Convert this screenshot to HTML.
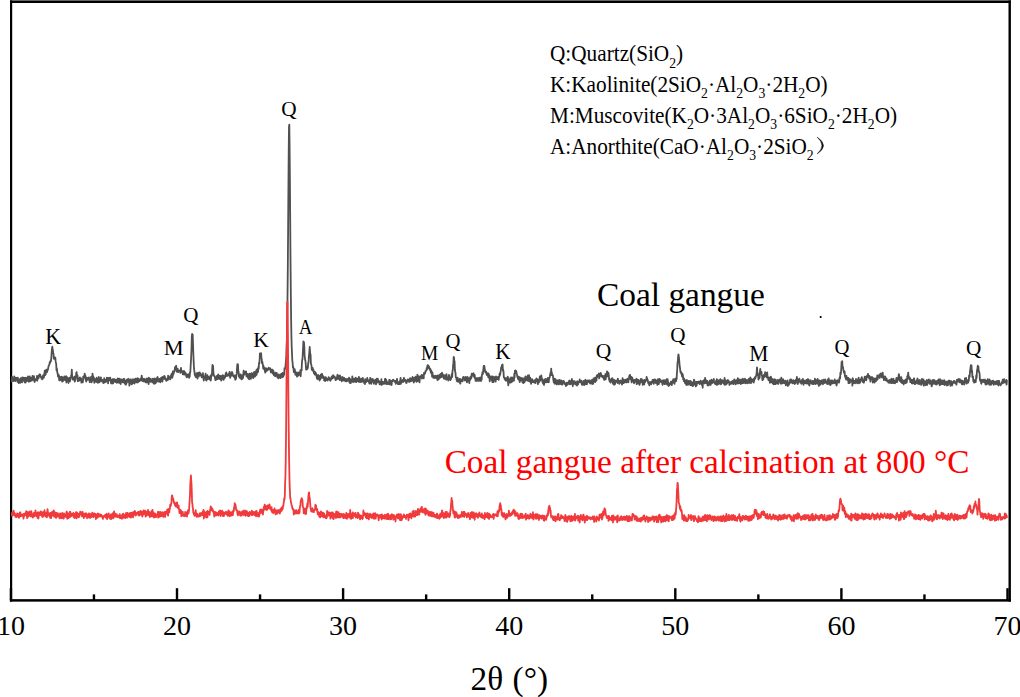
<!DOCTYPE html>
<html><head><meta charset="utf-8"><style>
html,body{margin:0;padding:0;background:#fff;}
svg{display:block;font-family:"Liberation Serif",serif;}
</style></head><body>
<svg width="1020" height="697" viewBox="0 0 1020 697">
<rect width="1020" height="697" fill="#fff"/>
<g fill="#000">
<rect x="10" y="0.4" width="1000.9" height="2.6"/>
<rect x="10" y="0.4" width="2.2" height="601.2"/>
<rect x="1008.5" y="0.4" width="2.4" height="601.2"/>
<rect x="9.9" y="599.15" width="1001" height="2.5"/>
<rect x="9.70" y="588.2" width="2.4" height="12.2"/><rect x="92.75" y="594.4" width="2.4" height="6.0"/><rect x="175.80" y="588.2" width="2.4" height="12.2"/><rect x="258.85" y="594.4" width="2.4" height="6.0"/><rect x="341.90" y="588.2" width="2.4" height="12.2"/><rect x="424.95" y="594.4" width="2.4" height="6.0"/><rect x="508.00" y="588.2" width="2.4" height="12.2"/><rect x="591.05" y="594.4" width="2.4" height="6.0"/><rect x="674.10" y="588.2" width="2.4" height="12.2"/><rect x="757.15" y="594.4" width="2.4" height="6.0"/><rect x="840.20" y="588.2" width="2.4" height="12.2"/><rect x="923.25" y="594.4" width="2.4" height="6.0"/><rect x="1006.30" y="588.2" width="2.4" height="12.2"/>
</g>
<path d="M11.5 379.9L11.8 381.3L12.1 376.8L12.4 380.3L12.7 378.9L13.0 379.2L13.3 381.0L13.6 379.1L13.9 380.4L14.2 376.3L14.5 380.0L14.8 380.9L15.1 379.3L15.4 381.2L15.7 377.6L16.0 379.4L16.3 377.9L16.6 379.4L16.9 378.7L17.2 378.7L17.5 381.8L17.8 377.6L18.1 379.5L18.4 381.9L18.7 383.1L19.0 381.5L19.3 380.8L19.6 379.3L19.9 381.2L20.2 382.9L20.5 379.6L20.8 378.2L21.1 380.2L21.4 381.9L21.7 380.9L22.0 382.4L22.3 377.4L22.6 379.3L22.9 380.3L23.2 377.8L23.5 377.7L23.8 380.9L24.1 379.0L24.4 377.9L24.7 382.4L25.0 378.8L25.3 379.1L25.6 382.7L25.9 377.6L26.2 380.9L26.5 381.2L26.8 380.6L27.1 378.0L27.4 380.9L27.7 379.1L28.0 376.4L28.3 380.6L28.6 381.0L28.9 381.8L29.2 378.6L29.5 378.7L29.8 376.4L30.1 379.6L30.4 381.1L30.7 380.8L31.0 380.1L31.3 377.9L31.6 380.0L31.9 380.5L32.2 379.6L32.5 375.8L32.8 378.8L33.1 379.9L33.4 377.8L33.7 379.1L34.0 376.2L34.3 381.0L34.6 382.0L34.9 381.1L35.2 379.5L35.5 379.4L35.8 378.9L36.1 379.8L36.4 378.5L36.7 380.0L37.0 375.9L37.3 380.8L37.6 376.9L37.9 376.6L38.2 377.2L38.5 378.3L38.8 375.3L39.1 376.6L39.4 374.4L39.7 376.0L40.0 376.2L40.3 374.6L40.6 376.9L40.9 377.2L41.2 377.4L41.5 378.6L41.8 377.6L42.1 379.4L42.4 376.6L42.7 378.9L43.0 375.5L43.3 376.2L43.6 376.2L43.9 377.7L44.2 374.1L44.5 372.7L44.8 370.6L45.1 372.5L45.4 375.0L45.7 374.2L46.0 370.4L46.3 369.6L46.6 371.0L46.9 372.3L47.2 371.4L47.5 369.3L47.8 370.1L48.1 369.0L48.4 366.8L48.7 365.7L49.0 365.5L49.3 364.8L49.6 363.0L49.9 362.0L50.2 362.6L50.5 361.0L50.8 361.5L51.1 360.1L51.4 356.4L51.7 351.9L52.0 348.5L52.3 346.7L52.6 348.7L52.9 350.2L53.2 353.4L53.5 353.7L53.8 358.7L54.1 358.4L54.4 358.5L54.7 357.4L55.0 359.3L55.3 357.7L55.6 360.9L55.9 362.7L56.2 363.7L56.5 370.3L56.8 368.4L57.1 370.1L57.4 373.1L57.7 373.3L58.0 376.7L58.3 375.9L58.6 376.5L58.9 375.1L59.2 380.3L59.5 376.6L59.8 380.3L60.1 378.7L60.4 379.6L60.7 379.1L61.0 377.0L61.3 377.1L61.6 380.6L61.9 376.6L62.2 381.6L62.5 380.2L62.8 378.8L63.1 381.0L63.4 377.6L63.7 377.7L64.0 378.9L64.3 376.5L64.6 378.5L64.9 380.1L65.2 379.8L65.5 380.3L65.8 377.9L66.1 376.2L66.4 382.5L66.7 377.0L67.0 378.6L67.3 381.0L67.6 377.7L67.9 380.7L68.2 378.2L68.5 383.0L68.8 380.8L69.1 378.8L69.4 380.9L69.7 377.7L70.0 381.4L70.3 379.3L70.6 378.1L70.9 377.0L71.2 375.2L71.5 374.8L71.8 369.6L72.1 375.6L72.4 377.2L72.7 379.7L73.0 378.9L73.3 378.9L73.6 378.0L73.9 379.8L74.2 378.0L74.5 376.6L74.8 381.6L75.1 379.0L75.4 379.8L75.7 377.3L76.0 376.4L76.3 372.6L76.6 372.1L76.9 375.8L77.2 377.5L77.5 375.4L77.8 381.2L78.1 378.5L78.4 380.4L78.7 379.0L79.0 380.9L79.3 378.9L79.6 377.8L79.9 377.5L80.2 378.8L80.5 379.2L80.8 380.5L81.1 378.4L81.4 382.7L81.7 382.1L82.0 380.8L82.3 380.8L82.6 382.4L82.9 382.1L83.2 376.6L83.5 379.5L83.8 377.3L84.1 375.8L84.4 377.4L84.7 373.6L85.0 375.3L85.3 375.5L85.6 376.4L85.9 380.0L86.2 381.7L86.5 379.6L86.8 378.0L87.1 379.8L87.4 379.8L87.7 379.7L88.0 379.4L88.3 377.7L88.6 378.6L88.9 377.4L89.2 379.7L89.5 380.7L89.8 382.2L90.1 379.8L90.4 379.3L90.7 381.4L91.0 377.0L91.3 378.0L91.6 382.4L91.9 380.6L92.2 376.7L92.5 373.6L92.8 376.3L93.1 376.1L93.4 380.3L93.7 377.2L94.0 378.0L94.3 382.8L94.6 379.7L94.9 379.6L95.2 379.5L95.5 380.8L95.8 378.9L96.1 381.8L96.4 381.4L96.7 377.7L97.0 381.6L97.3 382.2L97.6 382.6L97.9 382.8L98.2 381.6L98.5 379.0L98.8 376.8L99.1 378.8L99.4 382.4L99.7 381.9L100.0 380.8L100.3 379.5L100.6 380.8L100.9 377.3L101.2 379.5L101.5 379.7L101.8 379.9L102.1 381.5L102.4 379.8L102.7 380.8L103.0 380.4L103.3 383.1L103.6 380.8L103.9 382.8L104.2 378.2L104.5 379.6L104.8 381.7L105.1 382.2L105.4 380.0L105.7 380.0L106.0 381.9L106.3 381.2L106.6 380.3L106.9 377.6L107.2 378.6L107.5 379.6L107.8 379.8L108.1 383.4L108.4 378.0L108.7 380.4L109.0 378.6L109.3 380.3L109.6 378.3L109.9 377.6L110.2 377.6L110.5 379.6L110.8 381.1L111.1 383.4L111.4 380.0L111.7 380.3L112.0 383.5L112.3 382.1L112.6 379.2L112.9 382.1L113.2 383.3L113.5 379.5L113.8 381.8L114.1 379.0L114.4 379.4L114.7 380.8L115.0 381.4L115.3 381.9L115.6 380.3L115.9 379.7L116.2 382.3L116.5 381.7L116.8 382.9L117.1 380.8L117.4 380.2L117.7 378.3L118.0 381.0L118.3 378.9L118.6 382.6L118.9 380.8L119.2 378.6L119.5 382.3L119.8 379.0L120.1 383.1L120.4 382.3L120.7 384.0L121.0 381.6L121.3 379.4L121.6 380.7L121.9 381.5L122.2 381.0L122.5 380.3L122.8 382.4L123.1 380.2L123.4 379.0L123.7 382.1L124.0 380.8L124.3 379.0L124.6 383.5L124.9 380.6L125.2 382.2L125.5 380.9L125.8 384.8L126.1 382.8L126.4 383.8L126.7 379.6L127.0 381.8L127.3 380.5L127.6 381.9L127.9 379.5L128.2 378.8L128.5 380.7L128.8 381.6L129.1 381.6L129.4 385.7L129.7 380.4L130.0 379.3L130.3 382.7L130.6 380.8L130.9 379.5L131.2 381.4L131.5 384.3L131.8 384.3L132.1 382.2L132.4 380.5L132.7 383.4L133.0 379.1L133.3 380.1L133.6 381.6L133.9 380.1L134.2 382.0L134.5 383.6L134.8 379.1L135.1 381.8L135.4 379.6L135.7 378.6L136.0 378.5L136.3 382.4L136.6 381.7L136.9 382.3L137.2 380.1L137.5 382.5L137.8 378.2L138.1 379.6L138.4 382.0L138.7 381.3L139.0 379.4L139.3 379.2L139.6 381.0L139.9 380.5L140.2 379.2L140.5 379.2L140.8 380.3L141.1 378.1L141.4 378.8L141.7 375.7L142.0 377.9L142.3 381.0L142.6 378.6L142.9 378.6L143.2 380.3L143.5 378.9L143.8 381.3L144.1 381.6L144.4 379.0L144.7 381.1L145.0 380.6L145.3 380.0L145.6 381.8L145.9 382.4L146.2 380.4L146.5 378.7L146.8 382.5L147.1 378.3L147.4 382.0L147.7 379.6L148.0 379.6L148.3 381.5L148.6 384.2L148.9 377.7L149.2 378.6L149.5 381.5L149.8 379.8L150.1 380.0L150.4 381.8L150.7 378.6L151.0 380.6L151.3 381.5L151.6 380.5L151.9 380.3L152.2 381.5L152.5 382.4L152.8 378.7L153.1 380.4L153.4 382.9L153.7 382.9L154.0 383.8L154.3 380.8L154.6 378.5L154.9 379.3L155.2 380.3L155.5 383.4L155.8 380.7L156.1 378.9L156.4 378.5L156.7 378.5L157.0 381.8L157.3 377.5L157.6 377.0L157.9 379.7L158.2 380.1L158.5 379.8L158.8 381.6L159.1 378.8L159.4 380.5L159.7 381.2L160.0 381.8L160.3 382.3L160.6 378.2L160.9 381.1L161.2 380.8L161.5 379.6L161.8 377.3L162.1 378.7L162.4 381.7L162.7 376.8L163.0 378.1L163.3 377.1L163.6 378.9L163.9 378.7L164.2 376.0L164.5 378.1L164.8 376.5L165.1 379.2L165.4 377.9L165.7 379.8L166.0 379.0L166.3 380.9L166.6 379.8L166.9 379.1L167.2 379.7L167.5 378.6L167.8 380.2L168.1 375.7L168.4 377.6L168.7 378.2L169.0 378.8L169.3 377.4L169.6 377.3L169.9 376.9L170.2 379.3L170.5 375.9L170.8 376.1L171.1 376.0L171.4 374.5L171.7 373.8L172.0 377.9L172.3 377.9L172.6 376.1L172.9 371.4L173.2 374.9L173.5 373.7L173.8 372.7L174.1 371.6L174.4 370.7L174.7 370.1L175.0 367.2L175.3 369.5L175.6 367.2L175.9 366.1L176.2 365.8L176.5 371.4L176.8 371.7L177.1 368.3L177.4 369.5L177.7 368.9L178.0 372.2L178.3 371.8L178.6 370.9L178.9 371.2L179.2 370.3L179.5 370.9L179.8 371.5L180.1 371.3L180.4 372.9L180.7 372.1L181.0 367.8L181.3 371.6L181.6 371.0L181.9 371.0L182.2 371.0L182.5 371.2L182.8 374.4L183.1 371.9L183.4 373.3L183.7 374.4L184.0 370.8L184.3 373.7L184.6 374.7L184.9 374.0L185.2 372.4L185.5 374.4L185.8 373.3L186.1 374.8L186.4 376.8L186.7 374.6L187.0 377.4L187.3 375.5L187.6 376.3L187.9 375.5L188.2 374.2L188.5 376.3L188.8 374.8L189.1 377.8L189.4 375.7L189.7 376.8L190.0 372.4L190.3 372.3L190.6 367.2L190.9 361.6L191.2 356.0L191.5 348.8L191.8 336.4L192.1 334.0L192.4 334.8L192.7 334.6L193.0 343.6L193.3 352.8L193.6 360.1L193.9 366.4L194.2 369.9L194.5 372.0L194.8 375.1L195.1 375.0L195.4 375.8L195.7 377.1L196.0 374.8L196.3 375.1L196.6 373.2L196.9 373.9L197.2 377.0L197.5 378.6L197.8 374.5L198.1 372.6L198.4 375.7L198.7 376.6L199.0 373.1L199.3 373.7L199.6 372.3L199.9 375.0L200.2 375.4L200.5 373.3L200.8 374.8L201.1 375.7L201.4 375.7L201.7 377.2L202.0 377.3L202.3 374.9L202.6 375.5L202.9 373.2L203.2 376.5L203.5 378.6L203.8 380.6L204.1 376.8L204.4 377.6L204.7 376.4L205.0 377.4L205.3 375.3L205.6 373.6L205.9 379.9L206.2 379.3L206.5 380.6L206.8 376.7L207.1 376.8L207.4 375.2L207.7 377.0L208.0 379.1L208.3 376.6L208.6 378.3L208.9 378.0L209.2 377.3L209.5 378.3L209.8 379.5L210.1 378.7L210.4 375.9L210.7 380.5L211.0 378.9L211.3 375.6L211.6 374.1L211.9 375.6L212.2 368.6L212.5 364.8L212.8 367.5L213.1 365.8L213.4 373.0L213.7 374.8L214.0 375.9L214.3 375.9L214.6 376.2L214.9 377.2L215.2 379.2L215.5 380.2L215.8 380.1L216.1 378.1L216.4 379.1L216.7 376.0L217.0 375.9L217.3 377.5L217.6 379.1L217.9 378.3L218.2 374.3L218.5 376.8L218.8 378.5L219.1 377.5L219.4 378.9L219.7 375.7L220.0 379.2L220.3 377.4L220.6 376.1L220.9 377.5L221.2 380.7L221.5 379.1L221.8 376.0L222.1 377.4L222.4 378.9L222.7 375.1L223.0 376.1L223.3 375.6L223.6 379.9L223.9 375.9L224.2 377.8L224.5 378.3L224.8 376.1L225.1 377.3L225.4 375.8L225.7 373.4L226.0 374.5L226.3 372.3L226.6 374.1L226.9 376.2L227.2 375.3L227.5 374.8L227.8 374.6L228.1 375.4L228.4 374.1L228.7 375.4L229.0 375.7L229.3 373.3L229.6 371.8L229.9 375.7L230.2 377.9L230.5 375.4L230.8 375.5L231.1 375.8L231.4 373.0L231.7 374.1L232.0 372.0L232.3 374.7L232.6 373.1L232.9 375.6L233.2 376.1L233.5 376.6L233.8 375.9L234.1 377.1L234.4 377.4L234.7 375.5L235.0 377.9L235.3 379.8L235.6 375.7L235.9 379.1L236.2 376.8L236.5 374.9L236.8 373.4L237.1 367.0L237.4 364.1L237.7 365.8L238.0 364.5L238.3 372.0L238.6 371.7L238.9 376.3L239.2 376.2L239.5 377.6L239.8 374.7L240.1 377.0L240.4 378.4L240.7 374.5L241.0 375.6L241.3 378.5L241.6 379.4L241.9 376.2L242.2 379.0L242.5 375.1L242.8 377.2L243.1 378.0L243.4 373.1L243.7 370.7L244.0 373.5L244.3 374.7L244.6 373.5L244.9 371.8L245.2 373.8L245.5 372.9L245.8 371.8L246.1 371.5L246.4 376.1L246.7 376.2L247.0 375.5L247.3 373.9L247.6 377.7L247.9 374.5L248.2 374.4L248.5 375.2L248.8 378.8L249.1 379.2L249.4 373.6L249.7 378.6L250.0 377.4L250.3 374.0L250.6 377.6L250.9 378.9L251.2 377.2L251.5 373.2L251.8 375.5L252.1 376.8L252.4 377.2L252.7 375.7L253.0 373.4L253.3 378.0L253.6 376.9L253.9 374.5L254.2 371.9L254.5 376.6L254.8 375.8L255.1 376.5L255.4 371.9L255.7 375.6L256.0 373.3L256.3 370.1L256.6 374.8L256.9 371.7L257.2 369.1L257.5 370.8L257.8 372.3L258.1 371.3L258.4 366.9L258.7 368.8L259.0 362.8L259.3 363.6L259.6 360.6L259.9 353.5L260.2 354.2L260.5 353.9L260.8 353.4L261.1 353.1L261.4 357.4L261.7 358.9L262.0 363.2L262.3 361.7L262.6 363.5L262.9 365.1L263.2 368.5L263.5 365.8L263.8 368.1L264.1 369.4L264.4 368.0L264.7 369.7L265.0 371.8L265.3 372.7L265.6 370.8L265.9 368.1L266.2 371.2L266.5 370.9L266.8 369.0L267.1 369.4L267.4 370.5L267.7 368.9L268.0 369.1L268.3 369.6L268.6 367.6L268.9 369.4L269.2 368.3L269.5 368.9L269.8 368.6L270.1 369.3L270.4 368.4L270.7 371.0L271.0 372.6L271.3 372.1L271.6 370.0L271.9 370.4L272.2 370.8L272.5 369.6L272.8 373.7L273.1 372.7L273.4 370.8L273.7 373.4L274.0 375.3L274.3 372.9L274.6 374.7L274.9 374.3L275.2 376.4L275.5 372.7L275.8 374.7L276.1 374.2L276.4 375.5L276.7 372.9L277.0 374.1L277.3 376.9L277.6 377.5L277.9 377.8L278.2 377.2L278.5 378.4L278.8 374.5L279.1 377.1L279.4 375.7L279.7 377.3L280.0 376.4L280.3 374.8L280.6 378.2L280.9 375.2L281.2 374.0L281.5 373.7L281.8 376.8L282.1 373.5L282.4 377.3L282.7 372.9L283.0 373.7L283.3 376.7L283.6 373.6L283.9 375.0L284.2 374.5L284.5 368.1L284.8 369.3L285.1 368.1L285.4 367.3L285.7 363.7L286.0 360.0L286.3 356.2L286.6 346.8L286.9 339.8L287.2 318.9L287.5 298.2L287.8 269.1L288.1 231.8L288.4 190.1L288.7 153.0L289.0 126.7L289.3 124.6L289.6 147.7L289.9 179.8L290.2 219.3L290.5 259.0L290.8 291.5L291.1 317.6L291.4 335.3L291.7 347.3L292.0 353.2L292.3 360.6L292.6 362.2L292.9 367.4L293.2 366.6L293.5 368.5L293.8 372.2L294.1 369.9L294.4 371.4L294.7 369.2L295.0 371.2L295.3 374.8L295.6 373.1L295.9 372.2L296.2 373.0L296.5 374.0L296.8 375.3L297.1 376.7L297.4 372.6L297.7 373.7L298.0 375.8L298.3 374.9L298.6 374.8L298.9 372.5L299.2 374.0L299.5 374.7L299.8 372.7L300.1 375.2L300.4 370.1L300.7 376.3L301.0 370.4L301.3 370.4L301.6 370.6L301.9 363.2L302.2 359.8L302.5 359.3L302.8 353.2L303.1 347.6L303.4 341.4L303.7 342.5L304.0 342.1L304.3 346.8L304.6 355.5L304.9 358.0L305.2 360.4L305.5 361.0L305.8 365.0L306.1 369.7L306.4 368.0L306.7 366.8L307.0 369.4L307.3 368.2L307.6 368.4L307.9 367.4L308.2 362.9L308.5 363.0L308.8 358.1L309.1 354.3L309.4 351.3L309.7 347.0L310.0 351.3L310.3 354.2L310.6 354.9L310.9 363.6L311.2 364.5L311.5 365.5L311.8 369.8L312.1 369.5L312.4 370.2L312.7 367.8L313.0 369.9L313.3 371.2L313.6 370.1L313.9 373.3L314.2 372.7L314.5 373.6L314.8 374.6L315.1 372.0L315.4 373.2L315.7 373.3L316.0 373.1L316.3 375.7L316.6 376.3L316.9 378.6L317.2 376.4L317.5 375.5L317.8 379.3L318.1 374.9L318.4 377.0L318.7 378.3L319.0 376.0L319.3 377.4L319.6 380.7L319.9 376.0L320.2 376.9L320.5 379.2L320.8 374.6L321.1 378.0L321.4 375.6L321.7 373.9L322.0 373.9L322.3 374.9L322.6 377.8L322.9 376.0L323.2 376.5L323.5 378.2L323.8 376.8L324.1 380.5L324.4 378.9L324.7 380.5L325.0 379.1L325.3 381.0L325.6 377.2L325.9 377.5L326.2 378.4L326.5 380.2L326.8 380.0L327.1 379.4L327.4 379.1L327.7 380.6L328.0 379.4L328.3 378.6L328.6 377.1L328.9 378.5L329.2 379.1L329.5 378.0L329.8 379.9L330.1 380.3L330.4 380.7L330.7 379.5L331.0 379.4L331.3 378.3L331.6 376.8L331.9 376.5L332.2 377.3L332.5 378.5L332.8 378.3L333.1 375.2L333.4 376.4L333.7 375.9L334.0 376.7L334.3 377.1L334.6 376.5L334.9 377.7L335.2 377.7L335.5 380.1L335.8 380.1L336.1 379.3L336.4 378.1L336.7 377.4L337.0 379.1L337.3 375.3L337.6 374.8L337.9 376.4L338.2 378.9L338.5 375.9L338.8 377.7L339.1 378.4L339.4 377.8L339.7 380.2L340.0 375.3L340.3 379.0L340.6 378.3L340.9 379.8L341.2 380.1L341.5 379.3L341.8 381.3L342.1 376.9L342.4 379.1L342.7 377.1L343.0 377.6L343.3 380.5L343.6 380.0L343.9 379.8L344.2 378.0L344.5 379.8L344.8 379.4L345.1 381.0L345.4 380.2L345.7 379.0L346.0 381.4L346.3 379.6L346.6 381.3L346.9 379.0L347.2 381.0L347.5 380.0L347.8 379.4L348.1 379.0L348.4 380.0L348.7 378.6L349.0 377.7L349.3 381.9L349.6 382.8L349.9 378.6L350.2 379.8L350.5 379.6L350.8 383.2L351.1 381.2L351.4 380.1L351.7 380.5L352.0 381.1L352.3 376.3L352.6 381.1L352.9 380.8L353.2 382.2L353.5 381.6L353.8 378.7L354.1 381.0L354.4 380.9L354.7 381.6L355.0 379.7L355.3 380.7L355.6 377.6L355.9 380.8L356.2 382.2L356.5 378.9L356.8 379.1L357.1 378.5L357.4 381.1L357.7 379.6L358.0 380.6L358.3 379.6L358.6 381.8L358.9 376.9L359.2 379.8L359.5 380.0L359.8 378.3L360.1 382.2L360.4 381.2L360.7 381.9L361.0 379.6L361.3 379.5L361.6 378.8L361.9 381.9L362.2 381.3L362.5 381.6L362.8 377.9L363.1 379.8L363.4 380.2L363.7 380.9L364.0 381.6L364.3 383.4L364.6 382.9L364.9 384.1L365.2 379.2L365.5 381.8L365.8 382.5L366.1 381.4L366.4 379.7L366.7 381.5L367.0 379.3L367.3 378.0L367.6 381.1L367.9 381.1L368.2 381.2L368.5 380.4L368.8 382.1L369.1 381.8L369.4 383.5L369.7 382.9L370.0 379.1L370.3 377.9L370.6 381.7L370.9 381.9L371.2 383.9L371.5 380.8L371.8 379.1L372.1 379.1L372.4 381.7L372.7 379.0L373.0 381.4L373.3 380.2L373.6 383.0L373.9 383.8L374.2 380.5L374.5 381.9L374.8 382.2L375.1 381.0L375.4 379.7L375.7 380.1L376.0 384.3L376.3 382.2L376.6 379.3L376.9 378.7L377.2 382.6L377.5 380.8L377.8 378.6L378.1 381.1L378.4 381.0L378.7 380.7L379.0 382.7L379.3 381.4L379.6 384.3L379.9 382.9L380.2 384.4L380.5 381.6L380.8 382.9L381.1 382.5L381.4 379.1L381.7 384.9L382.0 381.8L382.3 382.9L382.6 382.0L382.9 383.8L383.2 381.9L383.5 383.3L383.8 383.6L384.1 383.9L384.4 382.7L384.7 383.6L385.0 378.9L385.3 380.9L385.6 379.0L385.9 379.8L386.2 379.9L386.5 384.2L386.8 381.2L387.1 382.7L387.4 383.6L387.7 383.0L388.0 384.2L388.3 382.8L388.6 383.8L388.9 383.9L389.2 380.0L389.5 382.5L389.8 379.8L390.1 384.5L390.4 381.4L390.7 383.8L391.0 381.2L391.3 380.9L391.6 385.0L391.9 382.0L392.2 381.1L392.5 380.7L392.8 379.9L393.1 379.7L393.4 379.8L393.7 380.2L394.0 381.0L394.3 380.7L394.6 381.9L394.9 381.3L395.2 381.7L395.5 380.8L395.8 383.8L396.1 382.6L396.4 380.6L396.7 380.7L397.0 379.0L397.3 381.0L397.6 381.8L397.9 384.1L398.2 382.2L398.5 382.9L398.8 384.2L399.1 382.2L399.4 384.2L399.7 382.9L400.0 380.8L400.3 380.1L400.6 377.8L400.9 383.9L401.2 381.6L401.5 381.0L401.8 381.5L402.1 381.8L402.4 380.1L402.7 381.7L403.0 382.1L403.3 380.0L403.6 380.3L403.9 377.8L404.2 378.2L404.5 380.8L404.8 380.3L405.1 379.8L405.4 381.7L405.7 380.6L406.0 381.5L406.3 383.0L406.6 382.8L406.9 382.2L407.2 380.1L407.5 379.8L407.8 379.3L408.1 379.4L408.4 379.8L408.7 380.4L409.0 381.8L409.3 381.1L409.6 381.9L409.9 379.0L410.2 378.1L410.5 378.9L410.8 379.7L411.1 381.1L411.4 379.2L411.7 379.8L412.0 378.1L412.3 380.7L412.6 377.0L412.9 379.9L413.2 380.9L413.5 380.7L413.8 382.5L414.1 377.8L414.4 381.6L414.7 380.2L415.0 378.5L415.3 378.0L415.6 376.6L415.9 377.3L416.2 380.2L416.5 381.9L416.8 380.0L417.1 378.8L417.4 374.7L417.7 381.2L418.0 376.2L418.3 377.9L418.6 376.6L418.9 376.2L419.2 381.2L419.5 382.3L419.8 379.0L420.1 376.9L420.4 377.6L420.7 376.5L421.0 375.9L421.3 376.8L421.6 375.0L421.9 378.6L422.2 375.5L422.5 375.2L422.8 376.0L423.1 376.9L423.4 377.0L423.7 378.4L424.0 372.9L424.3 373.9L424.6 374.0L424.9 373.5L425.2 373.2L425.5 370.9L425.8 370.9L426.1 370.5L426.4 370.6L426.7 368.0L427.0 369.3L427.3 366.5L427.6 365.1L427.9 366.6L428.2 365.4L428.5 366.0L428.8 368.2L429.1 366.6L429.4 368.7L429.7 369.6L430.0 369.6L430.3 368.8L430.6 370.9L430.9 372.9L431.2 370.3L431.5 372.2L431.8 372.5L432.1 376.6L432.4 372.3L432.7 375.1L433.0 375.4L433.3 377.8L433.6 377.8L433.9 376.1L434.2 376.8L434.5 377.2L434.8 378.0L435.1 375.6L435.4 377.7L435.7 377.5L436.0 377.8L436.3 375.8L436.6 378.3L436.9 376.8L437.2 377.3L437.5 380.2L437.8 375.4L438.1 378.9L438.4 375.9L438.7 379.3L439.0 377.8L439.3 376.3L439.6 374.9L439.9 377.2L440.2 377.8L440.5 374.0L440.8 377.0L441.1 374.4L441.4 374.7L441.7 377.2L442.0 372.6L442.3 376.1L442.6 374.0L442.9 376.5L443.2 376.6L443.5 375.6L443.8 378.7L444.1 375.1L444.4 378.5L444.7 378.1L445.0 378.8L445.3 375.3L445.6 377.5L445.9 375.9L446.2 379.8L446.5 374.2L446.8 377.3L447.1 379.1L447.4 377.6L447.7 379.2L448.0 379.0L448.3 380.5L448.6 377.3L448.9 374.9L449.2 376.3L449.5 378.7L449.8 377.8L450.1 379.3L450.4 380.1L450.7 377.3L451.0 379.0L451.3 376.9L451.6 375.1L451.9 373.7L452.2 377.2L452.5 370.7L452.8 370.3L453.1 365.2L453.4 363.5L453.7 356.8L454.0 357.4L454.3 361.2L454.6 361.3L454.9 370.0L455.2 371.9L455.5 372.6L455.8 377.3L456.1 377.3L456.4 378.4L456.7 380.5L457.0 381.3L457.3 378.7L457.6 377.7L457.9 380.7L458.2 381.9L458.5 379.5L458.8 379.4L459.1 381.3L459.4 381.0L459.7 379.0L460.0 383.0L460.3 383.6L460.6 381.2L460.9 379.2L461.2 380.1L461.5 380.1L461.8 381.0L462.1 380.3L462.4 381.3L462.7 381.3L463.0 377.6L463.3 376.9L463.6 377.9L463.9 378.5L464.2 377.5L464.5 377.4L464.8 380.5L465.1 379.9L465.4 379.1L465.7 377.0L466.0 380.4L466.3 378.5L466.6 377.7L466.9 382.3L467.2 381.6L467.5 376.8L467.8 379.9L468.1 377.9L468.4 379.9L468.7 379.2L469.0 380.9L469.3 383.2L469.6 378.1L469.9 378.0L470.2 380.0L470.5 376.6L470.8 378.7L471.1 377.5L471.4 378.1L471.7 373.7L472.0 374.3L472.3 375.4L472.6 373.9L472.9 375.6L473.2 373.5L473.5 373.1L473.8 376.5L474.1 374.6L474.4 377.5L474.7 375.0L475.0 378.6L475.3 378.4L475.6 380.8L475.9 379.3L476.2 378.1L476.5 378.1L476.8 380.9L477.1 379.5L477.4 378.4L477.7 379.8L478.0 377.9L478.3 380.9L478.6 378.7L478.9 379.2L479.2 380.8L479.5 380.6L479.8 377.6L480.1 379.9L480.4 380.5L480.7 380.5L481.0 381.0L481.3 376.9L481.6 380.0L481.9 374.9L482.2 374.0L482.5 372.1L482.8 374.2L483.1 371.9L483.4 369.7L483.7 365.9L484.0 369.2L484.3 365.8L484.6 367.9L484.9 370.1L485.2 372.1L485.5 372.0L485.8 372.7L486.1 371.6L486.4 372.3L486.7 375.0L487.0 373.3L487.3 373.3L487.6 373.4L487.9 373.6L488.2 377.3L488.5 373.5L488.8 374.2L489.1 377.9L489.4 375.4L489.7 381.3L490.0 378.5L490.3 377.3L490.6 377.1L490.9 379.0L491.2 376.3L491.5 377.3L491.8 380.5L492.1 380.5L492.4 382.1L492.7 376.5L493.0 382.1L493.3 380.0L493.6 382.1L493.9 377.3L494.2 377.0L494.5 378.5L494.8 378.8L495.1 378.7L495.4 380.2L495.7 381.6L496.0 376.5L496.3 378.5L496.6 377.9L496.9 379.1L497.2 379.1L497.5 377.1L497.8 377.5L498.1 377.1L498.4 378.5L498.7 379.9L499.0 376.6L499.3 377.0L499.6 373.5L499.9 375.2L500.2 374.4L500.5 372.5L500.8 370.6L501.1 367.7L501.4 367.0L501.7 367.4L502.0 364.8L502.3 365.0L502.6 364.5L502.9 370.7L503.2 369.9L503.5 371.5L503.8 377.3L504.1 377.5L504.4 377.6L504.7 379.4L505.0 379.1L505.3 378.1L505.6 380.6L505.9 379.4L506.2 378.7L506.5 378.4L506.8 380.5L507.1 377.6L507.4 380.7L507.7 376.6L508.0 381.9L508.3 385.4L508.6 380.0L508.9 378.4L509.2 382.8L509.5 380.6L509.8 382.3L510.1 379.6L510.4 379.1L510.7 382.7L511.0 377.5L511.3 378.4L511.6 381.1L511.9 382.0L512.2 377.5L512.5 378.1L512.8 380.5L513.1 379.8L513.4 380.9L513.7 377.7L514.0 380.7L514.3 373.7L514.6 377.7L514.9 370.7L515.2 372.8L515.5 370.3L515.8 371.1L516.1 370.9L516.4 371.8L516.7 373.5L517.0 374.5L517.3 376.9L517.6 376.2L517.9 378.3L518.2 379.3L518.5 376.9L518.8 376.7L519.1 380.2L519.4 378.4L519.7 382.1L520.0 377.4L520.3 379.3L520.6 380.6L520.9 378.9L521.2 380.2L521.5 379.3L521.8 378.0L522.1 379.7L522.4 382.1L522.7 379.1L523.0 378.7L523.3 383.1L523.6 378.5L523.9 381.2L524.2 380.2L524.5 382.3L524.8 381.5L525.1 378.3L525.4 376.5L525.7 379.5L526.0 380.4L526.3 377.3L526.6 380.1L526.9 376.8L527.2 379.0L527.5 377.2L527.8 375.5L528.1 381.0L528.4 379.5L528.7 378.8L529.0 375.1L529.3 380.8L529.6 380.4L529.9 381.7L530.2 377.6L530.5 381.2L530.8 380.9L531.1 383.9L531.4 380.6L531.7 380.8L532.0 379.1L532.3 379.5L532.6 382.0L532.9 380.2L533.2 382.0L533.5 381.0L533.8 382.3L534.1 381.5L534.4 382.7L534.7 382.6L535.0 380.5L535.3 379.6L535.6 383.1L535.9 379.4L536.2 381.2L536.5 378.4L536.8 380.8L537.1 380.5L537.4 381.1L537.7 379.3L538.0 384.3L538.3 380.7L538.6 380.5L538.9 382.5L539.2 381.8L539.5 379.8L539.8 376.5L540.1 376.9L540.4 380.6L540.7 377.6L541.0 378.2L541.3 375.4L541.6 377.8L541.9 380.0L542.2 378.8L542.5 382.4L542.8 381.3L543.1 383.7L543.4 381.1L543.7 382.0L544.0 385.0L544.3 379.5L544.6 382.4L544.9 382.2L545.2 379.3L545.5 382.3L545.8 379.0L546.1 382.3L546.4 379.3L546.7 379.1L547.0 379.5L547.3 381.2L547.6 382.2L547.9 377.9L548.2 381.7L548.5 380.2L548.8 382.3L549.1 378.3L549.4 377.9L549.7 377.5L550.0 375.2L550.3 374.3L550.6 372.3L550.9 374.2L551.2 368.6L551.5 375.0L551.8 372.4L552.1 374.8L552.4 375.2L552.7 375.0L553.0 376.0L553.3 379.3L553.6 381.5L553.9 382.6L554.2 380.0L554.5 378.7L554.8 383.8L555.1 383.1L555.4 379.2L555.7 379.4L556.0 382.2L556.3 380.4L556.6 383.6L556.9 384.5L557.2 382.0L557.5 382.8L557.8 381.6L558.1 380.1L558.4 383.2L558.7 384.1L559.0 384.4L559.3 381.6L559.6 380.0L559.9 382.6L560.2 381.7L560.5 381.3L560.8 384.2L561.1 380.5L561.4 384.3L561.7 382.2L562.0 383.6L562.3 384.7L562.6 381.2L562.9 381.8L563.2 382.3L563.5 380.9L563.8 381.9L564.1 381.5L564.4 384.0L564.7 383.8L565.0 384.2L565.3 383.7L565.6 383.4L565.9 386.1L566.2 383.6L566.5 382.8L566.8 383.0L567.1 383.7L567.4 384.8L567.7 383.3L568.0 384.0L568.3 382.1L568.6 383.3L568.9 383.9L569.2 380.7L569.5 384.2L569.8 380.6L570.1 384.0L570.4 382.4L570.7 384.3L571.0 381.6L571.3 381.0L571.6 382.6L571.9 379.0L572.2 381.8L572.5 382.5L572.8 386.3L573.1 381.0L573.4 381.7L573.7 383.1L574.0 382.9L574.3 383.9L574.6 381.1L574.9 383.9L575.2 382.1L575.5 382.1L575.8 384.6L576.1 384.2L576.4 382.3L576.7 383.8L577.0 385.6L577.3 381.2L577.6 384.3L577.9 383.6L578.2 384.2L578.5 382.1L578.8 381.8L579.1 382.1L579.4 381.7L579.7 379.3L580.0 381.6L580.3 382.2L580.6 382.0L580.9 382.3L581.2 381.2L581.5 380.7L581.8 384.3L582.1 384.9L582.4 383.0L582.7 382.6L583.0 383.8L583.3 384.6L583.6 380.8L583.9 383.8L584.2 385.1L584.5 381.4L584.8 382.6L585.1 380.6L585.4 379.8L585.7 384.1L586.0 383.5L586.3 383.2L586.6 382.5L586.9 384.4L587.2 380.5L587.5 382.0L587.8 381.3L588.1 381.4L588.4 380.7L588.7 380.4L589.0 382.3L589.3 380.5L589.6 381.7L589.9 383.0L590.2 383.5L590.5 381.6L590.8 381.2L591.1 380.5L591.4 382.7L591.7 383.7L592.0 379.9L592.3 383.1L592.6 382.3L592.9 384.1L593.2 383.4L593.5 378.5L593.8 379.5L594.1 381.5L594.4 379.5L594.7 381.3L595.0 377.6L595.3 382.0L595.6 380.5L595.9 377.5L596.2 380.6L596.5 380.2L596.8 375.4L597.1 377.4L597.4 375.3L597.7 376.3L598.0 374.6L598.3 376.0L598.6 374.6L598.9 373.5L599.2 378.4L599.5 377.2L599.8 374.9L600.1 374.7L600.4 374.1L600.7 372.8L601.0 374.2L601.3 376.2L601.6 376.3L601.9 376.8L602.2 375.7L602.5 375.7L602.8 376.2L603.1 377.7L603.4 376.1L603.7 377.1L604.0 379.5L604.3 379.9L604.6 377.3L604.9 375.5L605.2 376.3L605.5 374.2L605.8 379.3L606.1 375.4L606.4 373.7L606.7 376.4L607.0 371.3L607.3 372.2L607.6 375.4L607.9 376.4L608.2 372.6L608.5 373.4L608.8 375.5L609.1 379.7L609.4 380.1L609.7 381.6L610.0 381.0L610.3 379.4L610.6 382.6L610.9 381.8L611.2 379.6L611.5 381.3L611.8 378.3L612.1 379.1L612.4 378.3L612.7 381.0L613.0 383.9L613.3 381.6L613.6 379.6L613.9 380.6L614.2 384.8L614.5 382.8L614.8 380.2L615.1 384.2L615.4 382.2L615.7 381.2L616.0 380.9L616.3 381.3L616.6 381.7L616.9 381.8L617.2 380.1L617.5 383.0L617.8 378.6L618.1 379.7L618.4 381.9L618.7 382.1L619.0 380.8L619.3 383.9L619.6 382.6L619.9 381.3L620.2 381.1L620.5 381.6L620.8 380.5L621.1 382.8L621.4 381.6L621.7 382.4L622.0 384.5L622.3 382.4L622.6 378.1L622.9 380.9L623.2 381.1L623.5 383.2L623.8 380.0L624.1 380.0L624.4 382.7L624.7 380.2L625.0 382.0L625.3 379.8L625.6 382.0L625.9 380.6L626.2 379.3L626.5 382.5L626.8 379.5L627.1 379.4L627.4 380.9L627.7 378.7L628.0 379.1L628.3 382.4L628.6 379.3L628.9 379.4L629.2 376.0L629.5 378.3L629.8 375.0L630.1 375.0L630.4 377.3L630.7 377.1L631.0 379.9L631.3 376.9L631.6 382.4L631.9 379.0L632.2 377.7L632.5 380.4L632.8 379.1L633.1 379.6L633.4 381.0L633.7 382.3L634.0 383.3L634.3 382.2L634.6 380.0L634.9 381.5L635.2 381.7L635.5 381.2L635.8 380.7L636.1 379.4L636.4 378.8L636.7 384.1L637.0 380.7L637.3 383.7L637.6 379.7L637.9 382.2L638.2 379.9L638.5 383.3L638.8 380.2L639.1 381.3L639.4 384.9L639.7 384.0L640.0 382.9L640.3 382.1L640.6 382.4L640.9 378.8L641.2 379.5L641.5 381.0L641.8 379.2L642.1 380.6L642.4 381.8L642.7 384.8L643.0 383.5L643.3 380.3L643.6 382.9L643.9 383.6L644.2 384.5L644.5 379.9L644.8 380.0L645.1 382.1L645.4 381.2L645.7 380.6L646.0 380.5L646.3 380.3L646.6 376.9L646.9 380.0L647.2 378.4L647.5 381.0L647.8 380.1L648.1 382.3L648.4 383.4L648.7 383.7L649.0 383.1L649.3 385.4L649.6 383.6L649.9 381.9L650.2 383.4L650.5 382.8L650.8 382.8L651.1 384.3L651.4 381.8L651.7 382.4L652.0 382.4L652.3 381.9L652.6 379.8L652.9 382.3L653.2 379.8L653.5 383.8L653.8 383.8L654.1 382.1L654.4 379.4L654.7 379.9L655.0 380.9L655.3 379.6L655.6 379.8L655.9 383.1L656.2 381.1L656.5 381.1L656.8 380.8L657.1 380.7L657.4 384.9L657.7 381.1L658.0 379.2L658.3 384.1L658.6 383.4L658.9 383.9L659.2 378.9L659.5 379.8L659.8 379.6L660.1 379.4L660.4 381.6L660.7 380.4L661.0 381.5L661.3 382.4L661.6 381.2L661.9 380.8L662.2 381.5L662.5 384.9L662.8 383.3L663.1 380.1L663.4 383.2L663.7 381.0L664.0 380.8L664.3 384.0L664.6 384.1L664.9 380.1L665.2 383.0L665.5 380.8L665.8 383.8L666.1 381.9L666.4 381.7L666.7 379.2L667.0 380.7L667.3 384.7L667.6 379.2L667.9 381.3L668.2 383.2L668.5 386.0L668.8 383.0L669.1 385.7L669.4 384.1L669.7 383.9L670.0 384.3L670.3 384.2L670.6 384.3L670.9 381.6L671.2 383.1L671.5 382.5L671.8 385.2L672.1 382.7L672.4 381.6L672.7 380.6L673.0 382.7L673.3 379.2L673.6 382.8L673.9 379.5L674.2 382.2L674.5 383.9L674.8 379.2L675.1 380.8L675.4 380.6L675.7 378.4L676.0 381.3L676.3 378.5L676.6 379.5L676.9 373.6L677.2 369.8L677.5 362.9L677.8 361.5L678.1 357.1L678.4 354.3L678.7 355.7L679.0 358.0L679.3 361.3L679.6 365.7L679.9 367.2L680.2 369.8L680.5 372.3L680.8 371.4L681.1 373.0L681.4 374.1L681.7 373.8L682.0 376.5L682.3 373.4L682.6 376.4L682.9 375.0L683.2 379.3L683.5 377.8L683.8 381.2L684.1 378.7L684.4 380.5L684.7 380.5L685.0 383.1L685.3 383.1L685.6 383.7L685.9 383.0L686.2 380.1L686.5 385.0L686.8 379.9L687.1 382.2L687.4 383.6L687.7 383.1L688.0 384.9L688.3 383.7L688.6 380.9L688.9 381.0L689.2 383.8L689.5 382.8L689.8 383.0L690.1 380.8L690.4 385.1L690.7 383.9L691.0 381.5L691.3 383.1L691.6 385.0L691.9 384.1L692.2 384.3L692.5 386.2L692.8 382.3L693.1 384.2L693.4 385.6L693.7 381.9L694.0 379.7L694.3 380.4L694.6 383.2L694.9 384.4L695.2 382.1L695.5 382.1L695.8 386.4L696.1 384.4L696.4 381.9L696.7 385.5L697.0 381.9L697.3 381.9L697.6 381.9L697.9 382.2L698.2 383.0L698.5 381.9L698.8 381.5L699.1 382.4L699.4 383.2L699.7 384.1L700.0 382.3L700.3 382.0L700.6 380.7L700.9 382.1L701.2 381.3L701.5 384.0L701.8 383.5L702.1 385.4L702.4 384.0L702.7 387.8L703.0 380.9L703.3 382.6L703.6 382.0L703.9 380.2L704.2 382.8L704.5 383.4L704.8 383.0L705.1 377.8L705.4 380.5L705.7 382.0L706.0 383.0L706.3 380.3L706.6 381.2L706.9 383.3L707.2 380.9L707.5 385.3L707.8 382.8L708.1 385.7L708.4 382.6L708.7 383.7L709.0 382.7L709.3 383.8L709.6 380.6L709.9 384.9L710.2 382.1L710.5 385.0L710.8 384.1L711.1 382.0L711.4 379.7L711.7 380.4L712.0 383.3L712.3 382.8L712.6 380.5L712.9 381.0L713.2 381.7L713.5 382.4L713.8 379.0L714.1 382.4L714.4 382.7L714.7 383.3L715.0 382.3L715.3 384.1L715.6 382.8L715.9 384.3L716.2 380.5L716.5 383.0L716.8 379.2L717.1 384.9L717.4 381.5L717.7 384.5L718.0 380.1L718.3 381.0L718.6 382.5L718.9 381.3L719.2 383.9L719.5 382.1L719.8 380.0L720.1 380.0L720.4 379.1L720.7 380.1L721.0 384.4L721.3 381.7L721.6 382.6L721.9 382.0L722.2 380.1L722.5 381.3L722.8 382.9L723.1 381.1L723.4 380.6L723.7 383.6L724.0 382.9L724.3 384.3L724.6 378.0L724.9 384.8L725.2 381.8L725.5 382.0L725.8 380.4L726.1 384.5L726.4 382.0L726.7 381.1L727.0 383.7L727.3 381.4L727.6 380.4L727.9 380.0L728.2 382.1L728.5 381.3L728.8 382.5L729.1 381.3L729.4 385.0L729.7 382.1L730.0 383.7L730.3 383.3L730.6 382.9L730.9 383.9L731.2 382.0L731.5 383.7L731.8 382.7L732.1 381.8L732.4 380.8L732.7 383.2L733.0 382.1L733.3 384.0L733.6 382.6L733.9 382.6L734.2 379.4L734.5 379.8L734.8 381.0L735.1 381.9L735.4 384.4L735.7 380.6L736.0 382.7L736.3 383.2L736.6 380.2L736.9 383.7L737.2 381.5L737.5 383.3L737.8 378.2L738.1 381.2L738.4 383.2L738.7 383.4L739.0 379.4L739.3 379.7L739.6 382.2L739.9 383.1L740.2 380.2L740.5 382.6L740.8 384.1L741.1 379.5L741.4 382.7L741.7 381.8L742.0 381.1L742.3 383.2L742.6 383.1L742.9 378.7L743.2 380.6L743.5 380.8L743.8 383.0L744.1 382.3L744.4 379.9L744.7 381.1L745.0 378.7L745.3 383.1L745.6 383.3L745.9 383.1L746.2 380.5L746.5 380.0L746.8 382.2L747.1 381.0L747.4 383.4L747.7 380.2L748.0 381.4L748.3 380.5L748.6 379.8L748.9 378.7L749.2 383.0L749.5 380.8L749.8 379.3L750.1 380.9L750.4 377.5L750.7 379.0L751.0 383.1L751.3 379.0L751.6 380.5L751.9 379.7L752.2 380.3L752.5 381.3L752.8 380.5L753.1 381.9L753.4 379.0L753.7 382.7L754.0 380.7L754.3 380.3L754.6 378.6L754.9 377.2L755.2 378.5L755.5 377.9L755.8 376.2L756.1 376.0L756.4 374.4L756.7 371.9L757.0 367.3L757.3 371.9L757.6 375.1L757.9 373.5L758.2 376.0L758.5 379.6L758.8 374.4L759.1 376.5L759.4 378.2L759.7 376.9L760.0 371.0L760.3 369.0L760.6 373.0L760.9 373.6L761.2 371.8L761.5 372.0L761.8 375.5L762.1 375.7L762.4 380.2L762.7 378.8L763.0 378.5L763.3 379.2L763.6 375.9L763.9 374.9L764.2 377.1L764.5 374.3L764.8 376.6L765.1 372.2L765.4 374.1L765.7 376.3L766.0 376.0L766.3 373.1L766.6 374.4L766.9 377.6L767.2 372.5L767.5 376.8L767.8 377.6L768.1 378.2L768.4 380.2L768.7 377.3L769.0 378.9L769.3 377.7L769.6 380.6L769.9 382.8L770.2 381.5L770.5 378.5L770.8 376.6L771.1 377.4L771.4 382.1L771.7 378.5L772.0 380.7L772.3 383.0L772.6 380.3L772.9 379.4L773.2 382.1L773.5 384.4L773.8 380.7L774.1 379.8L774.4 379.3L774.7 384.2L775.0 381.5L775.3 380.8L775.6 379.6L775.9 384.0L776.2 381.4L776.5 382.5L776.8 381.3L777.1 383.0L777.4 383.2L777.7 379.8L778.0 383.7L778.3 383.9L778.6 382.3L778.9 381.6L779.2 381.2L779.5 379.4L779.8 381.3L780.1 380.7L780.4 381.1L780.7 383.7L781.0 380.1L781.3 377.7L781.6 381.3L781.9 383.6L782.2 380.7L782.5 379.9L782.8 383.0L783.1 379.2L783.4 380.2L783.7 383.0L784.0 381.9L784.3 383.2L784.6 381.1L784.9 382.1L785.2 380.7L785.5 382.7L785.8 385.3L786.1 383.8L786.4 383.6L786.7 384.7L787.0 380.8L787.3 382.8L787.6 380.3L787.9 386.0L788.2 383.6L788.5 384.0L788.8 384.8L789.1 384.4L789.4 382.7L789.7 383.3L790.0 380.3L790.3 379.4L790.6 382.3L790.9 380.4L791.2 379.5L791.5 380.2L791.8 382.6L792.1 382.9L792.4 380.9L792.7 383.4L793.0 382.8L793.3 380.2L793.6 382.5L793.9 382.8L794.2 380.6L794.5 384.0L794.8 382.1L795.1 382.5L795.4 383.5L795.7 381.8L796.0 379.6L796.3 379.4L796.6 380.9L796.9 377.0L797.2 379.6L797.5 382.8L797.8 384.0L798.1 382.8L798.4 379.3L798.7 380.4L799.0 379.2L799.3 378.6L799.6 381.1L799.9 380.0L800.2 382.6L800.5 381.2L800.8 382.6L801.1 382.6L801.4 383.8L801.7 383.0L802.0 379.8L802.3 381.9L802.6 380.9L802.9 379.0L803.2 381.7L803.5 384.8L803.8 381.9L804.1 381.3L804.4 380.6L804.7 382.0L805.0 381.7L805.3 383.2L805.6 380.9L805.9 383.3L806.2 380.3L806.5 379.9L806.8 383.6L807.1 379.9L807.4 383.5L807.7 379.9L808.0 379.0L808.3 382.1L808.6 383.8L808.9 383.2L809.2 385.5L809.5 385.3L809.8 380.2L810.1 382.0L810.4 382.2L810.7 380.3L811.0 382.8L811.3 382.9L811.6 383.5L811.9 383.2L812.2 381.2L812.5 384.0L812.8 380.8L813.1 383.7L813.4 384.0L813.7 381.2L814.0 381.5L814.3 382.8L814.6 383.6L814.9 378.7L815.2 383.0L815.5 384.1L815.8 380.0L816.1 381.0L816.4 382.0L816.7 383.3L817.0 382.0L817.3 383.5L817.6 378.8L817.9 379.7L818.2 380.8L818.5 383.7L818.8 385.9L819.1 385.1L819.4 381.7L819.7 380.5L820.0 382.3L820.3 384.7L820.6 384.5L820.9 383.2L821.2 381.3L821.5 380.4L821.8 382.5L822.1 383.0L822.4 381.3L822.7 382.0L823.0 384.3L823.3 379.6L823.6 381.9L823.9 381.0L824.2 381.4L824.5 381.1L824.8 383.2L825.1 379.4L825.4 379.5L825.7 382.2L826.0 382.5L826.3 381.6L826.6 382.8L826.9 382.0L827.2 384.2L827.5 383.9L827.8 379.6L828.1 381.3L828.4 382.8L828.7 378.4L829.0 380.4L829.3 384.4L829.6 384.0L829.9 381.1L830.2 383.2L830.5 385.1L830.8 380.3L831.1 381.8L831.4 382.9L831.7 380.5L832.0 383.6L832.3 382.1L832.6 380.6L832.9 381.3L833.2 383.0L833.5 382.8L833.8 383.3L834.1 381.2L834.4 382.5L834.7 379.4L835.0 382.4L835.3 383.3L835.6 381.0L835.9 382.6L836.2 383.1L836.5 385.5L836.8 384.7L837.1 380.4L837.4 380.3L837.7 381.5L838.0 380.9L838.3 382.3L838.6 379.9L838.9 382.7L839.2 381.7L839.5 378.0L839.8 377.1L840.1 378.5L840.4 372.6L840.7 374.3L841.0 372.4L841.3 368.0L841.6 361.9L841.9 364.6L842.2 361.1L842.5 366.2L842.8 366.7L843.1 367.6L843.4 370.5L843.7 370.8L844.0 372.8L844.3 371.8L844.6 371.4L844.9 375.6L845.2 377.1L845.5 375.7L845.8 378.1L846.1 379.5L846.4 376.0L846.7 377.6L847.0 377.8L847.3 377.9L847.6 380.0L847.9 379.9L848.2 378.0L848.5 383.1L848.8 378.3L849.1 379.3L849.4 383.2L849.7 380.7L850.0 382.6L850.3 379.4L850.6 379.4L850.9 380.8L851.2 380.6L851.5 381.3L851.8 380.7L852.1 380.4L852.4 385.6L852.7 378.1L853.0 381.3L853.3 380.0L853.6 383.1L853.9 380.8L854.2 381.8L854.5 380.8L854.8 381.9L855.1 383.3L855.4 382.2L855.7 382.1L856.0 379.0L856.3 382.1L856.6 382.3L856.9 381.0L857.2 383.3L857.5 382.5L857.8 380.0L858.1 380.2L858.4 378.2L858.7 377.8L859.0 383.3L859.3 379.9L859.6 379.8L859.9 380.7L860.2 382.6L860.5 379.8L860.8 379.4L861.1 379.5L861.4 378.3L861.7 377.1L862.0 380.6L862.3 378.5L862.6 379.6L862.9 382.1L863.2 381.3L863.5 381.5L863.8 382.7L864.1 381.3L864.4 380.4L864.7 376.6L865.0 380.0L865.3 376.8L865.6 377.4L865.9 377.4L866.2 380.3L866.5 379.2L866.8 375.9L867.1 377.1L867.4 376.1L867.7 374.7L868.0 373.9L868.3 376.8L868.6 377.3L868.9 376.4L869.2 378.6L869.5 376.0L869.8 379.2L870.1 376.9L870.4 381.6L870.7 377.5L871.0 377.8L871.3 379.2L871.6 377.5L871.9 376.9L872.2 377.9L872.5 379.6L872.8 382.6L873.1 378.1L873.4 381.2L873.7 381.4L874.0 378.4L874.3 379.3L874.6 382.6L874.9 380.5L875.2 378.6L875.5 380.1L875.8 378.5L876.1 381.2L876.4 379.1L876.7 378.3L877.0 379.4L877.3 375.3L877.6 379.6L877.9 375.9L878.2 376.7L878.5 376.7L878.8 376.9L879.1 376.1L879.4 374.6L879.7 378.0L880.0 374.5L880.3 374.0L880.6 375.9L880.9 373.5L881.2 374.8L881.5 376.4L881.8 377.4L882.1 375.3L882.4 376.9L882.7 372.6L883.0 376.2L883.3 378.0L883.6 376.1L883.9 380.2L884.2 378.5L884.5 377.3L884.8 378.1L885.1 376.3L885.4 377.0L885.7 380.3L886.0 378.1L886.3 379.5L886.6 378.5L886.9 380.1L887.2 381.3L887.5 380.7L887.8 380.7L888.1 381.1L888.4 382.6L888.7 381.8L889.0 380.5L889.3 380.0L889.6 382.9L889.9 381.8L890.2 382.1L890.5 382.2L890.8 382.1L891.1 379.1L891.4 383.2L891.7 378.6L892.0 383.0L892.3 382.4L892.6 379.3L892.9 382.8L893.2 379.8L893.5 378.8L893.8 382.0L894.1 383.2L894.4 380.6L894.7 381.6L895.0 383.4L895.3 382.1L895.6 381.4L895.9 382.2L896.2 379.5L896.5 378.0L896.8 382.0L897.1 382.0L897.4 380.2L897.7 380.2L898.0 377.6L898.3 377.1L898.6 376.1L898.9 374.2L899.2 375.9L899.5 380.0L899.8 381.1L900.1 377.2L900.4 379.8L900.7 378.5L901.0 382.3L901.3 377.2L901.6 380.6L901.9 382.9L902.2 383.1L902.5 380.1L902.8 383.2L903.1 382.8L903.4 381.4L903.7 384.5L904.0 380.8L904.3 380.5L904.6 380.8L904.9 383.2L905.2 383.1L905.5 382.5L905.8 379.4L906.1 379.9L906.4 382.8L906.7 382.6L907.0 380.6L907.3 376.1L907.6 376.4L907.9 375.8L908.2 372.6L908.5 376.5L908.8 377.2L909.1 379.1L909.4 378.9L909.7 377.5L910.0 378.3L910.3 382.2L910.6 379.8L910.9 381.0L911.2 379.6L911.5 380.3L911.8 383.3L912.1 380.0L912.4 383.5L912.7 382.3L913.0 380.0L913.3 383.0L913.6 381.9L913.9 378.3L914.2 378.5L914.5 382.7L914.8 384.2L915.1 382.9L915.4 382.9L915.7 383.7L916.0 381.2L916.3 382.8L916.6 381.6L916.9 381.0L917.2 379.3L917.5 378.5L917.8 383.5L918.1 383.2L918.4 382.3L918.7 380.5L919.0 384.3L919.3 381.0L919.6 383.0L919.9 379.8L920.2 382.5L920.5 382.2L920.8 383.3L921.1 384.9L921.4 384.8L921.7 383.6L922.0 378.9L922.3 380.8L922.6 382.6L922.9 383.3L923.2 379.3L923.5 379.8L923.8 385.7L924.1 384.5L924.4 383.3L924.7 381.5L925.0 381.2L925.3 383.9L925.6 385.1L925.9 383.5L926.2 382.3L926.5 382.4L926.8 380.0L927.1 385.0L927.4 380.3L927.7 382.9L928.0 382.5L928.3 381.4L928.6 380.8L928.9 379.5L929.2 381.4L929.5 383.8L929.8 380.5L930.1 381.5L930.4 380.4L930.7 382.6L931.0 384.0L931.3 382.6L931.6 386.4L931.9 385.6L932.2 382.7L932.5 380.1L932.8 384.2L933.1 380.2L933.4 382.9L933.7 383.5L934.0 380.0L934.3 381.0L934.6 383.3L934.9 380.7L935.2 384.3L935.5 383.2L935.8 383.0L936.1 381.3L936.4 383.5L936.7 384.6L937.0 383.2L937.3 380.7L937.6 381.5L937.9 380.2L938.2 383.4L938.5 380.4L938.8 381.2L939.1 379.2L939.4 382.3L939.7 385.3L940.0 382.5L940.3 379.5L940.6 380.9L940.9 384.4L941.2 380.9L941.5 383.2L941.8 382.1L942.1 380.3L942.4 384.2L942.7 381.2L943.0 381.0L943.3 384.0L943.6 381.8L943.9 382.3L944.2 380.2L944.5 385.0L944.8 382.8L945.1 381.3L945.4 383.7L945.7 383.4L946.0 384.7L946.3 384.7L946.6 381.7L946.9 385.5L947.2 382.5L947.5 384.3L947.8 385.3L948.1 383.5L948.4 380.6L948.7 383.3L949.0 383.9L949.3 382.1L949.6 380.7L949.9 382.0L950.2 383.6L950.5 385.8L950.8 381.3L951.1 381.2L951.4 383.7L951.7 381.7L952.0 385.5L952.3 384.2L952.6 383.7L952.9 383.4L953.2 382.7L953.5 381.7L953.8 381.0L954.1 381.3L954.4 380.9L954.7 382.1L955.0 383.1L955.3 383.4L955.6 382.4L955.9 382.1L956.2 383.8L956.5 384.7L956.8 380.0L957.1 381.4L957.4 381.4L957.7 380.3L958.0 381.5L958.3 379.1L958.6 379.0L958.9 380.8L959.2 379.3L959.5 382.4L959.8 379.2L960.1 381.5L960.4 380.2L960.7 382.7L961.0 380.8L961.3 382.0L961.6 380.5L961.9 384.2L962.2 384.4L962.5 381.0L962.8 383.3L963.1 382.9L963.4 381.5L963.7 383.9L964.0 382.2L964.3 384.7L964.6 383.0L964.9 378.3L965.2 381.4L965.5 382.4L965.8 382.0L966.1 377.9L966.4 380.9L966.7 383.7L967.0 380.2L967.3 382.6L967.6 380.3L967.9 381.8L968.2 382.7L968.5 380.0L968.8 380.9L969.1 375.5L969.4 377.0L969.7 376.6L970.0 371.1L970.3 369.6L970.6 366.9L970.9 365.1L971.2 367.0L971.5 365.3L971.8 372.4L972.1 370.6L972.4 377.2L972.7 376.8L973.0 376.4L973.3 381.3L973.6 379.9L973.9 381.6L974.2 382.7L974.5 380.3L974.8 381.1L975.1 381.1L975.4 379.9L975.7 382.2L976.0 378.9L976.3 375.2L976.6 378.1L976.9 372.0L977.2 369.2L977.5 368.2L977.8 365.6L978.1 366.8L978.4 366.6L978.7 371.6L979.0 371.2L979.3 372.4L979.6 373.7L979.9 379.7L980.2 380.9L980.5 379.5L980.8 379.6L981.1 383.3L981.4 383.7L981.7 380.6L982.0 380.0L982.3 380.1L982.6 381.4L982.9 381.9L983.2 379.6L983.5 381.7L983.8 381.2L984.1 382.1L984.4 381.0L984.7 380.4L985.0 379.5L985.3 383.7L985.6 384.5L985.9 380.6L986.2 380.9L986.5 381.1L986.8 384.3L987.1 381.3L987.4 382.3L987.7 379.2L988.0 379.4L988.3 382.7L988.6 383.4L988.9 380.2L989.2 384.6L989.5 379.4L989.8 383.0L990.1 382.5L990.4 384.9L990.7 381.2L991.0 383.2L991.3 384.6L991.6 381.7L991.9 382.0L992.2 380.8L992.5 383.1L992.8 382.4L993.1 380.6L993.4 383.0L993.7 384.8L994.0 384.3L994.3 382.1L994.6 381.8L994.9 381.6L995.2 381.7L995.5 383.5L995.8 384.3L996.1 381.7L996.4 382.5L996.7 383.5L997.0 381.0L997.3 384.0L997.6 384.2L997.9 380.8L998.2 383.6L998.5 385.5L998.8 382.1L999.1 380.9L999.4 383.7L999.7 383.6L1000.0 384.3L1000.3 384.1L1000.6 385.3L1000.9 384.3L1001.2 384.0L1001.5 383.7L1001.8 382.0L1002.1 382.4L1002.4 383.3L1002.7 379.7L1003.0 382.7L1003.3 379.6L1003.6 382.8L1003.9 379.8L1004.2 379.2L1004.5 382.3L1004.8 381.9L1005.1 382.1L1005.4 382.6L1005.7 382.4L1006.0 381.5L1006.3 379.8L1006.6 384.6L1006.9 380.7L1007.2 381.4" fill="none" stroke="#505050" stroke-width="1.8" stroke-linejoin="round"/>
<path d="M11.5 512.7L11.8 512.6L12.1 515.9L12.4 512.3L12.7 514.3L13.0 514.8L13.3 512.6L13.6 510.6L13.9 513.9L14.2 515.2L14.5 513.6L14.8 513.2L15.1 514.8L15.4 516.8L15.7 515.2L16.0 515.8L16.3 517.1L16.6 514.9L16.9 514.4L17.2 513.3L17.5 513.4L17.8 515.0L18.1 516.2L18.4 517.3L18.7 514.2L19.0 517.8L19.3 514.4L19.6 516.5L19.9 512.7L20.2 512.2L20.5 513.0L20.8 516.4L21.1 514.6L21.4 515.2L21.7 514.8L22.0 515.9L22.3 514.7L22.6 515.9L22.9 516.2L23.2 514.1L23.5 518.7L23.8 513.8L24.1 516.6L24.4 514.2L24.7 515.4L25.0 513.5L25.3 514.6L25.6 513.9L25.9 512.8L26.2 511.2L26.5 515.7L26.8 513.3L27.1 518.2L27.4 515.6L27.7 511.9L28.0 517.0L28.3 514.7L28.6 515.4L28.9 513.7L29.2 512.2L29.5 512.6L29.8 511.5L30.1 516.0L30.4 514.1L30.7 512.4L31.0 516.5L31.3 511.2L31.6 513.9L31.9 513.5L32.2 514.2L32.5 514.6L32.8 517.6L33.1 515.4L33.4 516.5L33.7 515.5L34.0 512.6L34.3 516.4L34.6 513.6L34.9 515.2L35.2 515.3L35.5 510.5L35.8 514.1L36.1 515.7L36.4 516.2L36.7 513.4L37.0 514.2L37.3 512.7L37.6 517.9L37.9 512.5L38.2 512.2L38.5 518.5L38.8 513.6L39.1 512.8L39.4 513.2L39.7 512.8L40.0 513.8L40.3 515.2L40.6 511.3L40.9 511.5L41.2 513.3L41.5 513.3L41.8 512.4L42.1 516.5L42.4 512.3L42.7 517.0L43.0 516.5L43.3 512.1L43.6 512.4L43.9 513.6L44.2 515.5L44.5 510.2L44.8 512.3L45.1 513.4L45.4 514.2L45.7 516.7L46.0 516.3L46.3 515.9L46.6 512.4L46.9 517.3L47.2 515.9L47.5 509.2L47.8 511.4L48.1 513.3L48.4 513.3L48.7 513.4L49.0 515.9L49.3 515.7L49.6 514.6L49.9 517.3L50.2 512.9L50.5 517.9L50.8 515.0L51.1 518.1L51.4 512.5L51.7 516.1L52.0 515.1L52.3 515.6L52.6 511.6L52.9 514.7L53.2 513.2L53.5 512.0L53.8 510.5L54.1 516.6L54.4 515.9L54.7 513.0L55.0 512.3L55.3 514.5L55.6 517.5L55.9 513.0L56.2 517.9L56.5 516.7L56.8 512.8L57.1 514.5L57.4 514.0L57.7 516.5L58.0 513.3L58.3 515.7L58.6 515.7L58.9 516.3L59.2 516.3L59.5 518.4L59.8 514.8L60.1 513.3L60.4 514.8L60.7 514.0L61.0 518.0L61.3 515.7L61.6 516.3L61.9 518.3L62.2 512.8L62.5 513.4L62.8 516.0L63.1 516.0L63.4 517.4L63.7 518.7L64.0 513.4L64.3 516.7L64.6 515.8L64.9 514.6L65.2 516.3L65.5 516.7L65.8 516.9L66.1 514.4L66.4 512.7L66.7 511.5L67.0 516.6L67.3 518.8L67.6 513.2L67.9 517.2L68.2 517.2L68.5 518.2L68.8 514.6L69.1 516.8L69.4 514.0L69.7 512.0L70.0 517.2L70.3 511.8L70.6 515.8L70.9 513.8L71.2 515.3L71.5 516.2L71.8 513.6L72.1 515.0L72.4 514.3L72.7 513.6L73.0 515.2L73.3 512.8L73.6 517.0L73.9 516.0L74.2 515.9L74.5 518.0L74.8 514.0L75.1 516.8L75.4 517.7L75.7 514.3L76.0 512.1L76.3 517.6L76.6 518.3L76.9 512.5L77.2 514.1L77.5 513.2L77.8 515.8L78.1 516.9L78.4 513.9L78.7 517.4L79.0 514.0L79.3 516.5L79.6 515.3L79.9 513.8L80.2 511.6L80.5 512.9L80.8 514.4L81.1 512.4L81.4 513.3L81.7 512.2L82.0 516.4L82.3 514.3L82.6 511.9L82.9 514.1L83.2 513.3L83.5 515.9L83.8 518.1L84.1 514.9L84.4 517.0L84.7 513.7L85.0 516.9L85.3 515.5L85.6 513.4L85.9 513.6L86.2 513.3L86.5 513.9L86.8 513.9L87.1 518.3L87.4 514.7L87.7 515.0L88.0 515.4L88.3 515.5L88.6 517.4L88.9 513.5L89.2 514.9L89.5 514.8L89.8 513.7L90.1 518.0L90.4 514.2L90.7 516.1L91.0 515.6L91.3 517.1L91.6 515.6L91.9 516.3L92.2 512.7L92.5 512.8L92.8 515.5L93.1 516.1L93.4 517.2L93.7 514.5L94.0 516.5L94.3 513.5L94.6 516.0L94.9 515.2L95.2 516.0L95.5 514.0L95.8 519.0L96.1 516.2L96.4 518.7L96.7 514.5L97.0 516.1L97.3 514.3L97.6 517.7L97.9 513.5L98.2 514.7L98.5 513.8L98.8 514.3L99.1 516.7L99.4 514.5L99.7 514.9L100.0 515.6L100.3 515.5L100.6 514.5L100.9 516.6L101.2 515.7L101.5 515.0L101.8 516.2L102.1 516.5L102.4 516.0L102.7 518.2L103.0 518.9L103.3 516.9L103.6 517.2L103.9 516.8L104.2 515.7L104.5 515.7L104.8 516.6L105.1 514.8L105.4 516.4L105.7 515.3L106.0 517.8L106.3 517.1L106.6 513.6L106.9 518.3L107.2 519.1L107.5 518.0L107.8 514.6L108.1 515.3L108.4 515.1L108.7 513.4L109.0 516.2L109.3 517.0L109.6 517.7L109.9 517.1L110.2 518.9L110.5 516.8L110.8 514.5L111.1 519.2L111.4 516.1L111.7 517.8L112.0 515.5L112.3 514.0L112.6 517.1L112.9 513.2L113.2 518.4L113.5 516.4L113.8 517.3L114.1 511.4L114.4 515.6L114.7 514.9L115.0 513.4L115.3 516.7L115.6 515.2L115.9 515.0L116.2 515.9L116.5 516.7L116.8 514.2L117.1 515.7L117.4 517.0L117.7 515.9L118.0 516.8L118.3 516.3L118.6 515.6L118.9 516.5L119.2 515.4L119.5 517.9L119.8 514.1L120.1 518.2L120.4 516.5L120.7 517.8L121.0 516.3L121.3 518.0L121.6 517.3L121.9 518.9L122.2 514.8L122.5 514.3L122.8 517.3L123.1 513.8L123.4 513.7L123.7 517.8L124.0 517.6L124.3 516.4L124.6 515.3L124.9 515.0L125.2 518.1L125.5 516.9L125.8 515.7L126.1 512.8L126.4 513.6L126.7 514.1L127.0 517.8L127.3 514.5L127.6 512.8L127.9 515.6L128.2 513.7L128.5 514.3L128.8 516.6L129.1 516.4L129.4 513.8L129.7 517.2L130.0 513.0L130.3 515.0L130.6 514.0L130.9 517.7L131.2 513.0L131.5 515.8L131.8 516.4L132.1 516.5L132.4 512.5L132.7 514.0L133.0 517.3L133.3 514.6L133.6 513.6L133.9 511.9L134.2 514.8L134.5 514.7L134.8 511.0L135.1 511.7L135.4 514.6L135.7 515.6L136.0 513.5L136.3 514.6L136.6 512.8L136.9 513.0L137.2 512.9L137.5 513.1L137.8 513.3L138.1 511.8L138.4 515.4L138.7 512.0L139.0 511.8L139.3 512.4L139.6 515.5L139.9 512.7L140.2 511.9L140.5 510.9L140.8 514.7L141.1 513.8L141.4 514.7L141.7 511.6L142.0 514.2L142.3 516.7L142.6 515.5L142.9 514.3L143.2 513.3L143.5 510.4L143.8 514.0L144.1 512.1L144.4 512.1L144.7 512.0L145.0 510.7L145.3 512.9L145.6 516.7L145.9 511.5L146.2 514.8L146.5 515.6L146.8 511.9L147.1 513.8L147.4 513.5L147.7 514.5L148.0 509.9L148.3 515.0L148.6 512.8L148.9 511.6L149.2 514.0L149.5 515.3L149.8 517.1L150.1 515.4L150.4 512.4L150.7 513.6L151.0 514.2L151.3 516.4L151.6 511.1L151.9 515.1L152.2 515.7L152.5 509.8L152.8 512.0L153.1 516.6L153.4 514.1L153.7 512.7L154.0 517.5L154.3 514.6L154.6 514.2L154.9 514.5L155.2 513.6L155.5 517.0L155.8 515.0L156.1 517.2L156.4 515.2L156.7 515.8L157.0 514.7L157.3 514.4L157.6 514.2L157.9 512.0L158.2 517.6L158.5 511.6L158.8 517.3L159.1 513.0L159.4 516.1L159.7 515.9L160.0 516.6L160.3 512.0L160.6 516.2L160.9 512.9L161.2 514.2L161.5 513.9L161.8 516.2L162.1 512.1L162.4 514.7L162.7 515.6L163.0 513.9L163.3 516.8L163.6 514.7L163.9 512.6L164.2 512.0L164.5 512.1L164.8 514.1L165.1 517.0L165.4 512.8L165.7 511.6L166.0 512.0L166.3 513.0L166.6 513.5L166.9 512.7L167.2 509.7L167.5 514.5L167.8 511.2L168.1 515.6L168.4 508.9L168.7 512.5L169.0 510.6L169.3 512.4L169.6 509.6L169.9 508.5L170.2 504.7L170.5 505.5L170.8 505.9L171.1 503.6L171.4 503.2L171.7 497.8L172.0 495.3L172.3 495.6L172.6 498.4L172.9 499.4L173.2 498.5L173.5 501.1L173.8 501.3L174.1 503.1L174.4 503.7L174.7 502.7L175.0 505.5L175.3 505.2L175.6 503.6L175.9 506.6L176.2 505.6L176.5 503.3L176.8 502.5L177.1 502.4L177.4 507.4L177.7 505.0L178.0 508.1L178.3 507.3L178.6 505.6L178.9 508.4L179.2 510.1L179.5 513.2L179.8 510.5L180.1 509.6L180.4 513.4L180.7 512.1L181.0 510.3L181.3 516.2L181.6 514.3L181.9 513.2L182.2 511.9L182.5 514.8L182.8 512.0L183.1 515.9L183.4 514.5L183.7 515.8L184.0 515.2L184.3 514.5L184.6 514.4L184.9 516.3L185.2 511.9L185.5 514.4L185.8 515.1L186.1 513.5L186.4 512.9L186.7 516.1L187.0 516.6L187.3 511.6L187.6 513.6L187.9 510.3L188.2 510.2L188.5 513.5L188.8 511.3L189.1 509.9L189.4 503.7L189.7 500.0L190.0 495.1L190.3 484.3L190.6 480.1L190.9 475.4L191.2 480.3L191.5 484.0L191.8 492.3L192.1 502.7L192.4 503.6L192.7 507.7L193.0 508.3L193.3 512.7L193.6 512.7L193.9 514.3L194.2 514.5L194.5 515.8L194.8 513.5L195.1 515.4L195.4 512.2L195.7 510.1L196.0 514.8L196.3 514.5L196.6 516.9L196.9 513.7L197.2 514.0L197.5 516.4L197.8 515.4L198.1 516.6L198.4 515.3L198.7 516.1L199.0 516.6L199.3 514.9L199.6 513.3L199.9 516.2L200.2 513.2L200.5 513.9L200.8 515.8L201.1 513.5L201.4 513.7L201.7 514.5L202.0 512.6L202.3 512.7L202.6 515.1L202.9 511.3L203.2 514.3L203.5 509.8L203.8 518.5L204.1 515.1L204.4 511.5L204.7 512.1L205.0 515.0L205.3 512.6L205.6 516.6L205.9 513.8L206.2 517.5L206.5 515.8L206.8 511.7L207.1 513.0L207.4 517.4L207.7 511.0L208.0 514.4L208.3 514.6L208.6 511.8L208.9 513.7L209.2 512.1L209.5 515.0L209.8 513.3L210.1 509.8L210.4 508.9L210.7 506.3L211.0 510.1L211.3 507.4L211.6 507.8L211.9 510.4L212.2 510.8L212.5 508.8L212.8 510.4L213.1 511.8L213.4 511.1L213.7 512.8L214.0 513.9L214.3 516.7L214.6 511.8L214.9 512.5L215.2 515.3L215.5 512.1L215.8 512.7L216.1 515.0L216.4 515.3L216.7 512.6L217.0 513.1L217.3 514.0L217.6 514.5L217.9 513.3L218.2 515.5L218.5 515.2L218.8 511.5L219.1 512.7L219.4 512.4L219.7 511.8L220.0 510.5L220.3 514.3L220.6 516.0L220.9 512.4L221.2 511.2L221.5 514.1L221.8 512.7L222.1 510.6L222.4 512.4L222.7 515.8L223.0 512.5L223.3 514.2L223.6 512.1L223.9 516.1L224.2 515.0L224.5 513.0L224.8 513.2L225.1 512.6L225.4 512.7L225.7 512.8L226.0 511.7L226.3 514.4L226.6 512.3L226.9 512.4L227.2 512.7L227.5 515.3L227.8 515.9L228.1 512.8L228.4 510.5L228.7 513.3L229.0 511.6L229.3 511.2L229.6 515.7L229.9 516.2L230.2 514.2L230.5 512.3L230.8 514.8L231.1 515.2L231.4 513.3L231.7 515.6L232.0 513.3L232.3 511.5L232.6 514.1L232.9 515.0L233.2 511.4L233.5 510.4L233.8 511.3L234.1 507.1L234.4 508.1L234.7 503.2L235.0 505.1L235.3 504.4L235.6 505.3L235.9 507.5L236.2 510.1L236.5 509.8L236.8 510.0L237.1 510.7L237.4 513.8L237.7 511.1L238.0 515.4L238.3 514.0L238.6 514.0L238.9 512.4L239.2 513.5L239.5 511.5L239.8 514.9L240.1 514.0L240.4 515.7L240.7 512.5L241.0 512.2L241.3 512.7L241.6 515.7L241.9 513.8L242.2 512.8L242.5 511.1L242.8 511.8L243.1 514.5L243.4 512.5L243.7 515.0L244.0 510.5L244.3 512.8L244.6 512.3L244.9 512.7L245.2 514.5L245.5 515.9L245.8 510.7L246.1 511.2L246.4 513.7L246.7 513.8L247.0 511.4L247.3 515.3L247.6 515.5L247.9 514.7L248.2 516.1L248.5 514.5L248.8 512.6L249.1 516.2L249.4 513.6L249.7 512.0L250.0 512.8L250.3 514.4L250.6 513.2L250.9 512.3L251.2 515.0L251.5 514.3L251.8 510.6L252.1 513.4L252.4 515.2L252.7 512.0L253.0 514.6L253.3 512.0L253.6 512.2L253.9 514.2L254.2 512.7L254.5 515.0L254.8 515.1L255.1 514.0L255.4 511.3L255.7 513.8L256.0 516.4L256.3 514.6L256.6 510.8L256.9 513.9L257.2 515.6L257.5 513.2L257.8 513.2L258.1 516.3L258.4 513.1L258.7 515.5L259.0 516.6L259.3 515.8L259.6 513.2L259.9 510.8L260.2 509.6L260.5 509.7L260.8 512.8L261.1 510.3L261.4 509.5L261.7 512.8L262.0 511.1L262.3 510.0L262.6 511.1L262.9 514.6L263.2 511.4L263.5 511.3L263.8 507.0L264.1 509.7L264.4 507.0L264.7 504.7L265.0 507.4L265.3 508.5L265.6 509.4L265.9 506.1L266.2 508.9L266.5 508.1L266.8 510.1L267.1 509.4L267.4 505.4L267.7 508.8L268.0 508.1L268.3 505.4L268.6 506.1L268.9 507.3L269.2 508.1L269.5 504.5L269.8 505.5L270.1 508.8L270.4 509.0L270.7 509.0L271.0 508.8L271.3 510.5L271.6 507.2L271.9 511.7L272.2 512.1L272.5 510.8L272.8 510.4L273.1 513.2L273.4 510.0L273.7 510.9L274.0 509.7L274.3 512.3L274.6 508.5L274.9 511.0L275.2 510.2L275.5 514.4L275.8 510.9L276.1 512.8L276.4 511.0L276.7 513.8L277.0 510.2L277.3 513.6L277.6 511.9L277.9 510.2L278.2 510.7L278.5 510.3L278.8 510.9L279.1 512.6L279.4 510.3L279.7 513.7L280.0 512.9L280.3 509.1L280.6 509.6L280.9 511.4L281.2 508.8L281.5 507.7L281.8 510.7L282.1 508.6L282.4 506.9L282.7 509.1L283.0 505.9L283.3 506.2L283.6 503.2L283.9 502.1L284.2 498.2L284.5 499.7L284.8 496.2L285.1 483.1L285.4 477.0L285.7 463.1L286.0 438.6L286.3 407.5L286.6 368.2L286.9 334.0L287.2 302.9L287.5 301.6L287.8 321.8L288.1 357.1L288.4 397.6L288.7 429.1L289.0 452.9L289.3 470.1L289.6 484.4L289.9 490.7L290.2 498.2L290.5 498.2L290.8 501.5L291.1 502.6L291.4 504.2L291.7 505.9L292.0 505.9L292.3 507.8L292.6 509.1L292.9 508.5L293.2 510.0L293.5 509.9L293.8 514.5L294.1 510.3L294.4 512.1L294.7 513.4L295.0 510.4L295.3 511.7L295.6 512.0L295.9 513.7L296.2 510.1L296.5 513.1L296.8 513.4L297.1 513.1L297.4 513.3L297.7 512.4L298.0 511.4L298.3 511.5L298.6 510.0L298.9 513.7L299.2 512.0L299.5 512.6L299.8 508.5L300.1 505.9L300.4 506.1L300.7 501.0L301.0 501.4L301.3 499.5L301.6 498.2L301.9 499.5L302.2 499.2L302.5 501.0L302.8 506.1L303.1 507.7L303.4 507.6L303.7 513.1L304.0 512.6L304.3 511.7L304.6 513.2L304.9 508.6L305.2 513.8L305.5 511.1L305.8 514.2L306.1 513.4L306.4 509.5L306.7 507.0L307.0 508.0L307.3 503.5L307.6 507.0L307.9 503.6L308.2 499.3L308.5 495.0L308.8 492.8L309.1 492.5L309.4 497.1L309.7 497.6L310.0 500.8L310.3 505.4L310.6 508.4L310.9 509.5L311.2 511.4L311.5 511.6L311.8 509.5L312.1 510.1L312.4 508.2L312.7 511.8L313.0 509.4L313.3 512.2L313.6 510.2L313.9 512.1L314.2 510.2L314.5 510.4L314.8 509.8L315.1 508.4L315.4 504.7L315.7 508.5L316.0 505.3L316.3 507.7L316.6 509.4L316.9 510.4L317.2 509.2L317.5 512.3L317.8 514.3L318.1 512.5L318.4 512.1L318.7 514.8L319.0 515.3L319.3 516.5L319.6 514.0L319.9 512.6L320.2 517.4L320.5 515.1L320.8 511.3L321.1 516.1L321.4 515.5L321.7 512.3L322.0 514.6L322.3 516.5L322.6 514.5L322.9 512.7L323.2 513.2L323.5 514.7L323.8 517.4L324.1 513.4L324.4 515.3L324.7 517.2L325.0 515.1L325.3 517.1L325.6 517.0L325.9 518.2L326.2 515.6L326.5 518.4L326.8 517.2L327.1 510.8L327.4 514.5L327.7 515.9L328.0 512.2L328.3 513.7L328.6 512.3L328.9 512.6L329.2 515.3L329.5 512.7L329.8 516.0L330.1 513.2L330.4 518.6L330.7 514.2L331.0 513.8L331.3 512.4L331.6 514.9L331.9 513.8L332.2 517.5L332.5 514.1L332.8 512.3L333.1 518.6L333.4 517.0L333.7 519.0L334.0 513.8L334.3 516.0L334.6 516.0L334.9 514.1L335.2 515.7L335.5 513.9L335.8 517.9L336.1 511.7L336.4 517.7L336.7 511.5L337.0 517.5L337.3 514.6L337.6 512.5L337.9 515.0L338.2 517.3L338.5 512.2L338.8 516.0L339.1 517.4L339.4 513.7L339.7 515.6L340.0 515.5L340.3 517.4L340.6 513.8L340.9 514.7L341.2 516.3L341.5 514.4L341.8 513.9L342.1 516.6L342.4 516.5L342.7 514.4L343.0 517.7L343.3 514.1L343.6 518.2L343.9 514.0L344.2 517.8L344.5 517.7L344.8 516.4L345.1 517.1L345.4 518.0L345.7 514.6L346.0 515.7L346.3 512.9L346.6 517.1L346.9 518.9L347.2 517.0L347.5 514.2L347.8 517.7L348.1 515.0L348.4 515.1L348.7 513.9L349.0 513.9L349.3 516.0L349.6 517.1L349.9 515.7L350.2 509.8L350.5 518.4L350.8 517.0L351.1 518.9L351.4 514.4L351.7 517.5L352.0 516.0L352.3 514.6L352.6 512.5L352.9 518.2L353.2 513.7L353.5 513.5L353.8 515.0L354.1 514.4L354.4 514.6L354.7 513.3L355.0 516.5L355.3 516.6L355.6 512.9L355.9 517.7L356.2 514.8L356.5 515.1L356.8 515.4L357.1 515.0L357.4 516.9L357.7 518.0L358.0 512.6L358.3 515.7L358.6 516.6L358.9 514.1L359.2 517.5L359.5 515.0L359.8 518.4L360.1 519.4L360.4 515.6L360.7 518.5L361.0 517.8L361.3 515.7L361.6 517.3L361.9 517.8L362.2 518.3L362.5 519.0L362.8 518.1L363.1 514.9L363.4 510.5L363.7 512.7L364.0 514.1L364.3 514.0L364.6 515.2L364.9 513.2L365.2 515.0L365.5 515.0L365.8 517.5L366.1 515.3L366.4 513.7L366.7 518.3L367.0 518.0L367.3 516.8L367.6 513.4L367.9 518.0L368.2 514.7L368.5 518.3L368.8 519.4L369.1 517.6L369.4 514.1L369.7 517.1L370.0 513.6L370.3 516.4L370.6 514.3L370.9 515.0L371.2 517.1L371.5 517.8L371.8 515.1L372.1 514.7L372.4 517.9L372.7 516.2L373.0 517.7L373.3 513.3L373.6 516.0L373.9 518.7L374.2 518.8L374.5 517.3L374.8 515.2L375.1 513.1L375.4 515.4L375.7 518.7L376.0 514.5L376.3 516.1L376.6 514.9L376.9 515.9L377.2 514.5L377.5 514.8L377.8 516.0L378.1 515.5L378.4 517.9L378.7 520.3L379.0 515.1L379.3 515.5L379.6 516.1L379.9 515.8L380.2 517.5L380.5 516.9L380.8 515.0L381.1 517.5L381.4 516.1L381.7 519.5L382.0 514.5L382.3 516.9L382.6 518.4L382.9 516.2L383.2 515.7L383.5 517.9L383.8 518.4L384.1 516.2L384.4 515.3L384.7 518.6L385.0 514.7L385.3 515.1L385.6 518.0L385.9 517.5L386.2 518.9L386.5 515.3L386.8 514.5L387.1 516.3L387.4 519.2L387.7 515.4L388.0 513.7L388.3 516.5L388.6 519.2L388.9 518.2L389.2 516.5L389.5 516.3L389.8 516.8L390.1 515.1L390.4 519.4L390.7 518.6L391.0 516.5L391.3 519.1L391.6 514.8L391.9 514.2L392.2 517.3L392.5 516.8L392.8 516.5L393.1 515.0L393.4 519.6L393.7 515.7L394.0 518.1L394.3 518.7L394.6 515.4L394.9 517.3L395.2 517.6L395.5 521.5L395.8 518.1L396.1 516.7L396.4 517.1L396.7 516.5L397.0 514.4L397.3 515.6L397.6 515.6L397.9 518.5L398.2 517.0L398.5 516.0L398.8 513.9L399.1 517.2L399.4 514.7L399.7 518.5L400.0 520.2L400.3 519.0L400.6 518.2L400.9 514.1L401.2 517.6L401.5 520.4L401.8 516.6L402.1 519.0L402.4 517.6L402.7 518.1L403.0 516.4L403.3 515.3L403.6 517.1L403.9 514.4L404.2 515.0L404.5 516.1L404.8 517.1L405.1 516.0L405.4 517.3L405.7 516.2L406.0 519.0L406.3 516.8L406.6 515.9L406.9 514.6L407.2 516.1L407.5 516.2L407.8 515.0L408.1 515.0L408.4 520.3L408.7 518.6L409.0 516.1L409.3 513.9L409.6 515.4L409.9 515.5L410.2 517.2L410.5 513.3L410.8 516.4L411.1 516.8L411.4 518.4L411.7 514.2L412.0 515.8L412.3 515.5L412.6 511.5L412.9 512.5L413.2 516.5L413.5 511.2L413.8 510.8L414.1 513.6L414.4 516.6L414.7 513.5L415.0 513.3L415.3 516.5L415.6 513.5L415.9 511.0L416.2 514.9L416.5 511.3L416.8 515.0L417.1 513.5L417.4 515.1L417.7 511.6L418.0 508.9L418.3 511.2L418.6 511.0L418.9 514.2L419.2 514.5L419.5 510.5L419.8 512.5L420.1 509.2L420.4 511.6L420.7 509.7L421.0 510.5L421.3 507.3L421.6 509.4L421.9 506.8L422.2 512.3L422.5 511.0L422.8 511.8L423.1 511.6L423.4 509.5L423.7 509.5L424.0 512.5L424.3 512.8L424.6 508.6L424.9 511.1L425.2 513.0L425.5 514.8L425.8 508.5L426.1 511.6L426.4 513.6L426.7 511.6L427.0 510.5L427.3 512.0L427.6 510.6L427.9 510.8L428.2 514.7L428.5 515.4L428.8 515.5L429.1 513.8L429.4 515.6L429.7 512.0L430.0 515.9L430.3 514.1L430.6 515.7L430.9 511.8L431.2 515.6L431.5 512.2L431.8 516.4L432.1 513.9L432.4 512.4L432.7 514.6L433.0 516.3L433.3 515.5L433.6 512.9L433.9 515.4L434.2 516.5L434.5 516.9L434.8 515.4L435.1 514.9L435.4 516.5L435.7 515.2L436.0 517.4L436.3 517.7L436.6 515.9L436.9 513.6L437.2 513.8L437.5 518.1L437.8 516.3L438.1 517.2L438.4 516.0L438.7 516.0L439.0 517.7L439.3 518.8L439.6 514.6L439.9 517.7L440.2 517.8L440.5 513.4L440.8 514.0L441.1 514.6L441.4 514.2L441.7 516.9L442.0 510.3L442.3 511.1L442.6 516.0L442.9 513.9L443.2 514.8L443.5 513.2L443.8 518.0L444.1 515.8L444.4 514.0L444.7 517.6L445.0 516.3L445.3 513.3L445.6 511.9L445.9 512.5L446.2 517.6L446.5 512.8L446.8 511.9L447.1 515.6L447.4 513.5L447.7 516.7L448.0 515.5L448.3 515.4L448.6 513.5L448.9 514.6L449.2 516.1L449.5 517.2L449.8 514.5L450.1 515.4L450.4 509.9L450.7 510.3L451.0 505.2L451.3 501.8L451.6 498.0L451.9 501.7L452.2 500.6L452.5 505.0L452.8 508.0L453.1 511.2L453.4 513.7L453.7 510.6L454.0 511.1L454.3 512.2L454.6 517.2L454.9 517.5L455.2 516.5L455.5 515.6L455.8 511.9L456.1 516.5L456.4 515.0L456.7 513.2L457.0 515.7L457.3 517.0L457.6 516.5L457.9 518.2L458.2 515.3L458.5 516.3L458.8 515.3L459.1 517.9L459.4 516.6L459.7 516.4L460.0 515.1L460.3 515.3L460.6 516.9L460.9 516.0L461.2 516.5L461.5 515.2L461.8 512.0L462.1 516.5L462.4 513.6L462.7 516.3L463.0 512.9L463.3 512.8L463.6 511.8L463.9 514.4L464.2 517.0L464.5 511.9L464.8 513.2L465.1 514.6L465.4 513.6L465.7 515.1L466.0 515.7L466.3 514.0L466.6 514.7L466.9 517.5L467.2 514.6L467.5 514.9L467.8 515.0L468.1 512.9L468.4 516.5L468.7 514.4L469.0 515.5L469.3 515.2L469.6 515.7L469.9 519.3L470.2 517.7L470.5 512.9L470.8 516.8L471.1 515.6L471.4 514.9L471.7 517.3L472.0 512.0L472.3 513.0L472.6 515.1L472.9 517.9L473.2 517.9L473.5 516.8L473.8 512.3L474.1 514.0L474.4 514.5L474.7 519.8L475.0 514.7L475.3 516.7L475.6 515.7L475.9 513.6L476.2 513.2L476.5 516.3L476.8 514.9L477.1 515.7L477.4 514.5L477.7 517.4L478.0 517.8L478.3 516.1L478.6 513.7L478.9 514.4L479.2 513.4L479.5 512.5L479.8 515.7L480.1 516.4L480.4 516.2L480.7 515.0L481.0 517.1L481.3 515.5L481.6 515.2L481.9 513.5L482.2 517.8L482.5 515.7L482.8 517.2L483.1 517.9L483.4 515.3L483.7 516.0L484.0 515.7L484.3 517.8L484.6 519.2L484.9 512.9L485.2 517.5L485.5 514.2L485.8 515.1L486.1 517.1L486.4 515.4L486.7 517.2L487.0 514.5L487.3 512.9L487.6 515.4L487.9 513.8L488.2 518.2L488.5 514.4L488.8 513.6L489.1 519.0L489.4 514.8L489.7 516.4L490.0 514.5L490.3 516.1L490.6 517.0L490.9 516.7L491.2 517.2L491.5 516.9L491.8 516.1L492.1 515.9L492.4 516.4L492.7 514.6L493.0 517.4L493.3 514.0L493.6 518.9L493.9 517.0L494.2 514.4L494.5 514.6L494.8 514.7L495.1 514.3L495.4 515.4L495.7 515.4L496.0 515.0L496.3 514.7L496.6 515.5L496.9 516.1L497.2 513.1L497.5 511.4L497.8 516.3L498.1 510.7L498.4 513.0L498.7 511.9L499.0 511.7L499.3 509.6L499.6 505.6L499.9 504.8L500.2 503.1L500.5 507.6L500.8 505.1L501.1 510.0L501.4 509.1L501.7 514.9L502.0 512.6L502.3 515.9L502.6 513.9L502.9 513.7L503.2 517.0L503.5 515.2L503.8 513.6L504.1 513.0L504.4 515.8L504.7 515.5L505.0 516.7L505.3 518.6L505.6 519.3L505.9 514.6L506.2 516.9L506.5 514.0L506.8 516.5L507.1 517.8L507.4 515.9L507.7 516.8L508.0 516.2L508.3 513.8L508.6 515.8L508.9 510.6L509.2 513.3L509.5 514.7L509.8 515.0L510.1 516.0L510.4 515.5L510.7 514.5L511.0 513.3L511.3 515.1L511.6 514.8L511.9 514.6L512.2 512.0L512.5 513.8L512.8 511.1L513.1 510.7L513.4 511.9L513.7 509.7L514.0 509.9L514.3 512.8L514.6 514.2L514.9 511.0L515.2 515.9L515.5 511.9L515.8 513.0L516.1 515.5L516.4 514.2L516.7 515.3L517.0 515.8L517.3 513.1L517.6 513.5L517.9 514.7L518.2 517.9L518.5 518.8L518.8 519.1L519.1 515.8L519.4 517.7L519.7 518.3L520.0 516.6L520.3 513.8L520.6 515.1L520.9 513.6L521.2 517.8L521.5 517.8L521.8 514.0L522.1 516.2L522.4 514.1L522.7 518.1L523.0 517.1L523.3 517.4L523.6 516.9L523.9 517.6L524.2 517.2L524.5 515.3L524.8 516.5L525.1 517.4L525.4 517.0L525.7 513.6L526.0 519.6L526.3 517.3L526.6 518.0L526.9 515.9L527.2 516.3L527.5 518.2L527.8 514.8L528.1 517.0L528.4 516.8L528.7 518.7L529.0 516.0L529.3 517.9L529.6 518.5L529.9 517.4L530.2 514.3L530.5 513.7L530.8 515.7L531.1 517.0L531.4 517.7L531.7 515.7L532.0 516.6L532.3 514.7L532.6 518.4L532.9 512.2L533.2 518.3L533.5 519.5L533.8 518.7L534.1 517.0L534.4 514.8L534.7 516.8L535.0 517.1L535.3 516.2L535.6 514.2L535.9 518.5L536.2 518.9L536.5 515.1L536.8 514.2L537.1 518.0L537.4 518.2L537.7 514.5L538.0 515.7L538.3 516.1L538.6 516.9L538.9 520.0L539.2 518.3L539.5 515.2L539.8 516.0L540.1 517.3L540.4 517.8L540.7 516.6L541.0 515.9L541.3 518.0L541.6 518.6L541.9 518.5L542.2 517.2L542.5 515.4L542.8 516.5L543.1 518.1L543.4 515.8L543.7 520.3L544.0 516.2L544.3 520.8L544.6 515.8L544.9 518.7L545.2 519.2L545.5 518.7L545.8 518.6L546.1 519.8L546.4 518.5L546.7 515.7L547.0 516.7L547.3 515.1L547.6 513.7L547.9 515.4L548.2 511.2L548.5 509.8L548.8 506.9L549.1 509.4L549.4 505.6L549.7 508.8L550.0 507.9L550.3 513.2L550.6 510.4L550.9 515.3L551.2 517.0L551.5 516.3L551.8 516.7L552.1 517.7L552.4 517.1L552.7 516.1L553.0 519.3L553.3 520.0L553.6 517.0L553.9 517.5L554.2 520.4L554.5 517.6L554.8 516.4L555.1 516.4L555.4 516.3L555.7 521.2L556.0 518.2L556.3 519.4L556.6 519.0L556.9 518.4L557.2 516.8L557.5 519.7L557.8 514.3L558.1 517.1L558.4 514.0L558.7 517.8L559.0 518.9L559.3 519.8L559.6 520.3L559.9 520.1L560.2 517.9L560.5 517.5L560.8 518.2L561.1 515.1L561.4 516.7L561.7 518.4L562.0 516.7L562.3 517.1L562.6 516.3L562.9 516.6L563.2 517.9L563.5 518.3L563.8 517.3L564.1 518.1L564.4 520.2L564.7 521.2L565.0 518.4L565.3 514.8L565.6 515.4L565.9 520.7L566.2 517.4L566.5 517.1L566.8 518.8L567.1 522.0L567.4 517.3L567.7 516.6L568.0 517.3L568.3 519.8L568.6 516.1L568.9 518.8L569.2 518.4L569.5 516.1L569.8 518.1L570.1 517.1L570.4 521.4L570.7 517.2L571.0 521.0L571.3 515.8L571.6 517.6L571.9 518.0L572.2 520.8L572.5 517.8L572.8 517.6L573.1 516.3L573.4 516.6L573.7 519.8L574.0 518.9L574.3 517.4L574.6 519.6L574.9 513.9L575.2 520.6L575.5 519.2L575.8 518.7L576.1 517.8L576.4 516.5L576.7 517.2L577.0 517.0L577.3 518.4L577.6 518.3L577.9 515.6L578.2 520.7L578.5 520.3L578.8 517.8L579.1 516.5L579.4 516.4L579.7 522.5L580.0 518.8L580.3 519.3L580.6 516.8L580.9 515.0L581.2 519.1L581.5 516.5L581.8 519.3L582.1 519.1L582.4 520.3L582.7 518.8L583.0 515.9L583.3 514.6L583.6 514.7L583.9 519.6L584.2 518.3L584.5 519.1L584.8 522.7L585.1 517.0L585.4 520.4L585.7 519.6L586.0 518.6L586.3 518.5L586.6 516.3L586.9 515.8L587.2 520.1L587.5 516.4L587.8 516.6L588.1 518.7L588.4 518.2L588.7 518.7L589.0 518.7L589.3 517.6L589.6 517.2L589.9 518.3L590.2 517.4L590.5 519.4L590.8 517.6L591.1 518.5L591.4 517.5L591.7 518.9L592.0 518.8L592.3 518.3L592.6 517.9L592.9 516.3L593.2 519.4L593.5 517.7L593.8 518.3L594.1 522.0L594.4 516.4L594.7 519.1L595.0 518.1L595.3 520.0L595.6 518.8L595.9 518.2L596.2 521.7L596.5 519.5L596.8 516.4L597.1 519.3L597.4 519.0L597.7 517.8L598.0 519.4L598.3 518.7L598.6 517.4L598.9 520.5L599.2 518.5L599.5 514.6L599.8 515.6L600.1 514.4L600.4 517.7L600.7 515.6L601.0 515.7L601.3 517.1L601.6 514.0L601.9 519.5L602.2 517.8L602.5 518.0L602.8 513.6L603.1 511.5L603.4 512.8L603.7 515.3L604.0 514.1L604.3 509.8L604.6 508.3L604.9 513.0L605.2 509.3L605.5 512.3L605.8 514.2L606.1 515.6L606.4 515.8L606.7 517.8L607.0 517.6L607.3 517.5L607.6 518.2L607.9 518.2L608.2 515.8L608.5 520.9L608.8 520.3L609.1 516.1L609.4 518.5L609.7 517.6L610.0 519.4L610.3 518.8L610.6 519.5L610.9 517.8L611.2 518.5L611.5 520.4L611.8 515.9L612.1 519.7L612.4 516.0L612.7 517.4L613.0 522.5L613.3 515.5L613.6 516.5L613.9 520.1L614.2 517.6L614.5 517.6L614.8 517.1L615.1 519.4L615.4 518.7L615.7 518.4L616.0 519.6L616.3 517.4L616.6 516.5L616.9 519.6L617.2 522.4L617.5 519.6L617.8 515.5L618.1 518.8L618.4 519.3L618.7 520.2L619.0 520.6L619.3 520.7L619.6 518.6L619.9 519.8L620.2 517.2L620.5 518.5L620.8 519.9L621.1 516.2L621.4 518.8L621.7 518.6L622.0 517.4L622.3 520.0L622.6 519.6L622.9 519.8L623.2 516.8L623.5 518.6L623.8 518.7L624.1 516.6L624.4 518.8L624.7 519.9L625.0 516.6L625.3 517.5L625.6 517.4L625.9 517.7L626.2 519.8L626.5 519.4L626.8 515.9L627.1 517.1L627.4 519.9L627.7 521.2L628.0 516.7L628.3 517.3L628.6 516.4L628.9 521.2L629.2 520.2L629.5 516.2L629.8 520.9L630.1 516.9L630.4 518.6L630.7 517.7L631.0 519.6L631.3 517.7L631.6 519.5L631.9 520.5L632.2 516.7L632.5 513.9L632.8 514.3L633.1 515.2L633.4 514.4L633.7 515.9L634.0 516.8L634.3 515.7L634.6 519.5L634.9 517.6L635.2 517.5L635.5 516.2L635.8 516.0L636.1 517.7L636.4 520.5L636.7 516.6L637.0 520.9L637.3 517.9L637.6 520.8L637.9 518.9L638.2 518.6L638.5 519.0L638.8 521.2L639.1 520.8L639.4 519.5L639.7 519.5L640.0 518.3L640.3 518.4L640.6 521.6L640.9 517.8L641.2 520.3L641.5 519.1L641.8 520.6L642.1 519.5L642.4 517.5L642.7 519.6L643.0 518.2L643.3 517.7L643.6 515.6L643.9 517.1L644.2 515.3L644.5 519.7L644.8 517.7L645.1 518.9L645.4 521.7L645.7 519.2L646.0 519.6L646.3 518.5L646.6 516.3L646.9 519.0L647.2 518.3L647.5 517.4L647.8 519.9L648.1 522.0L648.4 521.0L648.7 521.2L649.0 517.4L649.3 519.8L649.6 519.3L649.9 518.0L650.2 520.6L650.5 518.0L650.8 519.7L651.1 519.0L651.4 518.1L651.7 519.9L652.0 519.9L652.3 516.5L652.6 518.6L652.9 516.6L653.2 516.5L653.5 518.3L653.8 516.7L654.1 521.6L654.4 519.4L654.7 517.2L655.0 519.9L655.3 516.8L655.6 516.9L655.9 518.0L656.2 516.5L656.5 518.0L656.8 522.1L657.1 517.1L657.4 520.9L657.7 519.2L658.0 520.2L658.3 522.0L658.6 515.5L658.9 519.9L659.2 515.1L659.5 514.6L659.8 516.5L660.1 517.7L660.4 518.7L660.7 516.3L661.0 521.3L661.3 522.4L661.6 519.7L661.9 521.5L662.2 517.2L662.5 519.5L662.8 519.1L663.1 517.2L663.4 521.7L663.7 517.1L664.0 516.7L664.3 516.8L664.6 520.7L664.9 520.2L665.2 521.4L665.5 516.5L665.8 516.3L666.1 519.6L666.4 517.2L666.7 515.1L667.0 520.5L667.3 516.4L667.6 518.9L667.9 515.7L668.2 519.7L668.5 518.4L668.8 521.3L669.1 517.0L669.4 516.3L669.7 518.0L670.0 516.7L670.3 517.9L670.6 517.2L670.9 517.4L671.2 517.5L671.5 518.6L671.8 520.0L672.1 516.1L672.4 519.6L672.7 516.0L673.0 520.2L673.3 518.3L673.6 516.7L673.9 517.1L674.2 514.3L674.5 518.8L674.8 517.0L675.1 513.7L675.4 512.3L675.7 514.7L676.0 510.4L676.3 506.7L676.6 501.8L676.9 490.1L677.2 487.9L677.5 482.8L677.8 483.3L678.1 489.3L678.4 494.5L678.7 502.5L679.0 503.2L679.3 503.8L679.6 506.5L679.9 508.8L680.2 506.2L680.5 508.0L680.8 510.9L681.1 510.6L681.4 509.8L681.7 512.0L682.0 513.6L682.3 519.0L682.6 515.7L682.9 518.1L683.2 517.4L683.5 515.3L683.8 520.5L684.1 515.4L684.4 515.2L684.7 520.1L685.0 520.4L685.3 520.0L685.6 517.2L685.9 517.5L686.2 521.2L686.5 518.8L686.8 521.1L687.1 519.4L687.4 521.2L687.7 519.0L688.0 518.6L688.3 519.8L688.6 515.0L688.9 517.3L689.2 517.9L689.5 516.1L689.8 516.8L690.1 516.3L690.4 516.3L690.7 518.8L691.0 515.0L691.3 520.1L691.6 516.7L691.9 517.9L692.2 518.5L692.5 517.3L692.8 518.1L693.1 515.8L693.4 516.1L693.7 520.5L694.0 521.1L694.3 520.2L694.6 518.5L694.9 516.1L695.2 517.0L695.5 518.9L695.8 518.0L696.1 518.9L696.4 519.3L696.7 520.4L697.0 521.1L697.3 519.6L697.6 520.4L697.9 522.3L698.2 519.2L698.5 516.2L698.8 521.1L699.1 521.2L699.4 517.4L699.7 517.7L700.0 521.0L700.3 519.2L700.6 519.9L700.9 519.8L701.2 521.1L701.5 518.6L701.8 521.3L702.1 519.9L702.4 518.7L702.7 516.6L703.0 520.2L703.3 517.4L703.6 520.7L703.9 519.7L704.2 518.3L704.5 515.5L704.8 518.2L705.1 514.8L705.4 520.1L705.7 517.1L706.0 519.9L706.3 516.1L706.6 516.0L706.9 521.4L707.2 515.1L707.5 517.0L707.8 518.1L708.1 518.5L708.4 516.3L708.7 519.7L709.0 515.5L709.3 515.1L709.6 518.9L709.9 518.2L710.2 515.3L710.5 515.6L710.8 518.4L711.1 517.5L711.4 520.2L711.7 518.3L712.0 517.6L712.3 518.2L712.6 516.5L712.9 518.0L713.2 519.8L713.5 521.2L713.8 518.5L714.1 516.6L714.4 518.8L714.7 516.4L715.0 520.4L715.3 519.7L715.6 518.1L715.9 517.2L716.2 518.1L716.5 520.6L716.8 518.9L717.1 518.2L717.4 518.6L717.7 516.9L718.0 516.5L718.3 519.1L718.6 520.5L718.9 519.8L719.2 517.9L719.5 518.3L719.8 520.7L720.1 516.5L720.4 519.9L720.7 518.9L721.0 516.5L721.3 521.1L721.6 520.5L721.9 516.7L722.2 517.0L722.5 521.1L722.8 517.2L723.1 516.7L723.4 515.5L723.7 519.7L724.0 517.9L724.3 519.1L724.6 521.5L724.9 517.9L725.2 516.6L725.5 516.1L725.8 519.0L726.1 521.0L726.4 513.9L726.7 520.6L727.0 517.5L727.3 518.5L727.6 516.3L727.9 518.5L728.2 517.4L728.5 520.1L728.8 514.8L729.1 518.0L729.4 518.1L729.7 520.1L730.0 518.7L730.3 517.1L730.6 516.1L730.9 516.5L731.2 518.9L731.5 515.2L731.8 519.9L732.1 520.0L732.4 518.5L732.7 518.2L733.0 516.6L733.3 514.8L733.6 519.0L733.9 518.1L734.2 517.4L734.5 520.4L734.8 516.0L735.1 516.0L735.4 519.4L735.7 518.3L736.0 520.5L736.3 517.9L736.6 518.1L736.9 519.7L737.2 520.9L737.5 518.1L737.8 516.7L738.1 517.0L738.4 518.1L738.7 516.7L739.0 517.1L739.3 514.1L739.6 515.8L739.9 519.4L740.2 520.9L740.5 521.6L740.8 517.2L741.1 519.4L741.4 518.6L741.7 519.5L742.0 518.2L742.3 520.4L742.6 515.9L742.9 517.3L743.2 517.1L743.5 516.2L743.8 518.7L744.1 518.2L744.4 517.1L744.7 519.7L745.0 517.6L745.3 519.1L745.6 516.0L745.9 515.8L746.2 518.7L746.5 516.3L746.8 519.5L747.1 518.6L747.4 516.7L747.7 519.2L748.0 517.6L748.3 520.8L748.6 517.6L748.9 516.5L749.2 516.9L749.5 520.8L749.8 516.3L750.1 517.3L750.4 517.8L750.7 519.2L751.0 520.3L751.3 515.9L751.6 517.5L751.9 519.7L752.2 516.6L752.5 515.1L752.8 515.3L753.1 516.8L753.4 515.7L753.7 518.0L754.0 514.8L754.3 513.7L754.6 510.3L754.9 509.8L755.2 510.7L755.5 511.2L755.8 509.9L756.1 514.1L756.4 510.3L756.7 515.9L757.0 514.8L757.3 513.2L757.6 514.9L757.9 519.1L758.2 514.7L758.5 516.5L758.8 514.0L759.1 518.4L759.4 517.2L759.7 515.2L760.0 517.0L760.3 517.7L760.6 517.6L760.9 517.0L761.2 512.7L761.5 515.1L761.8 511.9L762.1 512.9L762.4 514.2L762.7 512.1L763.0 511.8L763.3 511.3L763.6 515.2L763.9 513.4L764.2 511.9L764.5 515.0L764.8 513.9L765.1 514.0L765.4 517.6L765.7 517.5L766.0 516.2L766.3 517.9L766.6 518.3L766.9 514.8L767.2 513.8L767.5 515.4L767.8 516.5L768.1 518.9L768.4 518.8L768.7 518.6L769.0 516.7L769.3 517.9L769.6 515.0L769.9 514.3L770.2 515.4L770.5 517.1L770.8 516.4L771.1 519.6L771.4 518.8L771.7 518.2L772.0 517.0L772.3 518.9L772.6 516.6L772.9 517.9L773.2 514.5L773.5 515.4L773.8 515.3L774.1 516.6L774.4 518.8L774.7 519.2L775.0 515.4L775.3 517.2L775.6 516.0L775.9 518.8L776.2 516.0L776.5 516.5L776.8 519.2L777.1 517.4L777.4 516.7L777.7 519.3L778.0 520.6L778.3 516.4L778.6 517.9L778.9 519.3L779.2 515.0L779.5 515.2L779.8 519.1L780.1 517.5L780.4 516.6L780.7 519.8L781.0 515.5L781.3 517.7L781.6 516.3L781.9 519.0L782.2 516.9L782.5 517.3L782.8 518.1L783.1 514.9L783.4 518.9L783.7 518.1L784.0 517.9L784.3 518.4L784.6 514.4L784.9 515.7L785.2 517.0L785.5 517.5L785.8 516.8L786.1 518.3L786.4 516.0L786.7 518.0L787.0 518.7L787.3 515.5L787.6 516.4L787.9 515.1L788.2 516.2L788.5 515.3L788.8 516.0L789.1 516.7L789.4 514.7L789.7 515.4L790.0 515.5L790.3 516.2L790.6 518.9L790.9 518.6L791.2 519.4L791.5 516.5L791.8 520.8L792.1 518.5L792.4 519.4L792.7 518.9L793.0 518.0L793.3 520.6L793.6 515.2L793.9 521.3L794.2 517.9L794.5 518.6L794.8 515.3L795.1 517.6L795.4 515.0L795.7 518.3L796.0 516.4L796.3 518.9L796.6 518.9L796.9 515.4L797.2 513.9L797.5 514.7L797.8 513.2L798.1 518.6L798.4 516.3L798.7 517.9L799.0 513.8L799.3 516.8L799.6 515.8L799.9 516.7L800.2 516.2L800.5 517.2L800.8 518.1L801.1 520.0L801.4 519.9L801.7 516.7L802.0 517.3L802.3 517.6L802.6 518.8L802.9 516.0L803.2 518.5L803.5 517.0L803.8 519.1L804.1 515.2L804.4 518.7L804.7 514.9L805.0 519.5L805.3 518.3L805.6 516.5L805.9 519.0L806.2 515.2L806.5 517.7L806.8 518.5L807.1 515.3L807.4 517.2L807.7 518.2L808.0 515.1L808.3 515.4L808.6 515.2L808.9 520.3L809.2 520.5L809.5 518.5L809.8 516.7L810.1 518.8L810.4 517.6L810.7 520.1L811.0 518.6L811.3 514.7L811.6 517.7L811.9 518.6L812.2 519.0L812.5 513.8L812.8 520.4L813.1 519.5L813.4 515.9L813.7 517.3L814.0 519.8L814.3 519.1L814.6 519.4L814.9 516.2L815.2 519.9L815.5 516.2L815.8 514.4L816.1 515.4L816.4 518.0L816.7 517.4L817.0 517.4L817.3 515.9L817.6 518.5L817.9 518.6L818.2 518.9L818.5 516.7L818.8 516.1L819.1 520.3L819.4 516.6L819.7 516.1L820.0 518.6L820.3 515.1L820.6 516.6L820.9 518.1L821.2 516.8L821.5 514.7L821.8 516.3L822.1 515.9L822.4 515.3L822.7 517.8L823.0 519.8L823.3 520.0L823.6 518.5L823.9 517.0L824.2 519.7L824.5 514.9L824.8 517.6L825.1 518.6L825.4 519.7L825.7 520.4L826.0 518.7L826.3 518.4L826.6 519.0L826.9 520.3L827.2 515.7L827.5 519.0L827.8 519.6L828.1 517.9L828.4 518.7L828.7 519.7L829.0 515.3L829.3 519.6L829.6 517.2L829.9 515.2L830.2 517.9L830.5 519.3L830.8 517.3L831.1 518.7L831.4 517.9L831.7 516.2L832.0 518.1L832.3 516.3L832.6 517.0L832.9 513.9L833.2 514.7L833.5 517.2L833.8 514.9L834.1 514.9L834.4 517.6L834.7 519.1L835.0 519.8L835.3 518.7L835.6 514.6L835.9 518.6L836.2 516.5L836.5 517.3L836.8 513.8L837.1 514.4L837.4 518.0L837.7 515.9L838.0 516.7L838.3 512.8L838.6 510.3L838.9 511.2L839.2 509.9L839.5 507.3L839.8 502.8L840.1 499.6L840.4 498.7L840.7 499.8L841.0 500.9L841.3 503.9L841.6 503.9L841.9 504.1L842.2 505.0L842.5 510.3L842.8 506.8L843.1 505.7L843.4 506.7L843.7 509.0L844.0 511.5L844.3 507.6L844.6 512.5L844.9 514.1L845.2 510.9L845.5 512.9L845.8 517.2L846.1 515.6L846.4 513.6L846.7 513.8L847.0 515.4L847.3 516.0L847.6 517.1L847.9 516.6L848.2 515.2L848.5 517.6L848.8 518.8L849.1 517.3L849.4 518.0L849.7 516.2L850.0 518.0L850.3 519.0L850.6 519.9L850.9 519.0L851.2 513.6L851.5 520.7L851.8 517.1L852.1 517.6L852.4 514.6L852.7 517.0L853.0 514.8L853.3 516.2L853.6 516.8L853.9 515.5L854.2 514.9L854.5 518.8L854.8 515.9L855.1 514.6L855.4 513.3L855.7 514.4L856.0 519.0L856.3 520.0L856.6 518.6L856.9 519.8L857.2 518.2L857.5 514.1L857.8 520.2L858.1 518.6L858.4 514.3L858.7 518.5L859.0 516.3L859.3 516.7L859.6 518.7L859.9 515.1L860.2 517.7L860.5 517.2L860.8 518.2L861.1 517.2L861.4 515.7L861.7 516.1L862.0 513.5L862.3 518.7L862.6 516.4L862.9 514.1L863.2 515.7L863.5 519.6L863.8 514.4L864.1 518.2L864.4 517.8L864.7 515.6L865.0 519.2L865.3 514.0L865.6 517.6L865.9 514.0L866.2 516.2L866.5 514.3L866.8 518.1L867.1 516.4L867.4 518.2L867.7 517.3L868.0 518.2L868.3 514.2L868.6 518.4L868.9 518.3L869.2 514.3L869.5 519.1L869.8 516.6L870.1 518.4L870.4 519.3L870.7 518.5L871.0 515.8L871.3 518.3L871.6 518.2L871.9 514.5L872.2 515.4L872.5 513.5L872.8 515.4L873.1 514.2L873.4 515.7L873.7 515.6L874.0 517.8L874.3 519.6L874.6 515.0L874.9 515.9L875.2 517.0L875.5 517.6L875.8 516.8L876.1 519.0L876.4 514.4L876.7 517.8L877.0 516.3L877.3 517.4L877.6 513.4L877.9 514.8L878.2 516.8L878.5 515.9L878.8 515.5L879.1 518.2L879.4 515.8L879.7 519.7L880.0 515.1L880.3 515.5L880.6 515.9L880.9 513.4L881.2 517.3L881.5 516.8L881.8 516.3L882.1 516.4L882.4 514.6L882.7 516.0L883.0 518.0L883.3 516.3L883.6 516.6L883.9 516.4L884.2 516.0L884.5 513.3L884.8 514.5L885.1 515.6L885.4 516.5L885.7 517.1L886.0 518.1L886.3 516.1L886.6 516.6L886.9 516.1L887.2 513.8L887.5 514.9L887.8 518.2L888.1 514.7L888.4 514.4L888.7 517.4L889.0 516.9L889.3 516.3L889.6 515.1L889.9 519.0L890.2 513.8L890.5 515.3L890.8 517.3L891.1 518.1L891.4 514.4L891.7 516.8L892.0 514.6L892.3 514.4L892.6 517.4L892.9 516.5L893.2 515.7L893.5 515.6L893.8 517.0L894.1 516.9L894.4 516.5L894.7 517.9L895.0 517.5L895.3 517.5L895.6 518.8L895.9 519.5L896.2 515.0L896.5 514.0L896.8 517.3L897.1 513.0L897.4 515.2L897.7 514.6L898.0 515.4L898.3 516.9L898.6 516.5L898.9 520.6L899.2 518.9L899.5 514.8L899.8 518.2L900.1 516.3L900.4 517.1L900.7 519.8L901.0 512.5L901.3 515.0L901.6 514.5L901.9 514.7L902.2 517.0L902.5 516.8L902.8 515.4L903.1 512.9L903.4 515.3L903.7 518.1L904.0 519.2L904.3 517.9L904.6 511.1L904.9 514.3L905.2 513.5L905.5 516.6L905.8 517.3L906.1 515.7L906.4 512.8L906.7 515.9L907.0 514.2L907.3 512.2L907.6 513.2L907.9 512.6L908.2 512.6L908.5 511.3L908.8 512.0L909.1 511.1L909.4 515.9L909.7 511.6L910.0 511.3L910.3 514.4L910.6 511.2L910.9 512.9L911.2 514.6L911.5 514.2L911.8 515.3L912.1 515.2L912.4 515.6L912.7 513.9L913.0 515.9L913.3 516.4L913.6 515.4L913.9 516.2L914.2 518.8L914.5 518.3L914.8 517.0L915.1 514.4L915.4 514.5L915.7 514.9L916.0 519.4L916.3 516.8L916.6 515.5L916.9 515.6L917.2 516.9L917.5 516.1L917.8 518.2L918.1 519.0L918.4 514.9L918.7 519.2L919.0 516.1L919.3 515.3L919.6 519.4L919.9 516.8L920.2 517.7L920.5 519.8L920.8 515.6L921.1 516.9L921.4 515.9L921.7 517.1L922.0 517.2L922.3 518.5L922.6 514.6L922.9 514.4L923.2 516.8L923.5 515.9L923.8 513.9L924.1 514.5L924.4 513.9L924.7 519.5L925.0 514.9L925.3 515.6L925.6 515.9L925.9 516.2L926.2 517.6L926.5 519.2L926.8 516.8L927.1 517.2L927.4 517.9L927.7 516.1L928.0 520.3L928.3 519.3L928.6 516.9L928.9 520.7L929.2 519.5L929.5 520.2L929.8 518.1L930.1 518.6L930.4 515.4L930.7 519.5L931.0 515.6L931.3 518.6L931.6 516.8L931.9 518.4L932.2 521.3L932.5 520.6L932.8 517.2L933.1 520.0L933.4 519.5L933.7 513.8L934.0 519.8L934.3 517.5L934.6 517.8L934.9 515.8L935.2 516.9L935.5 516.6L935.8 510.6L936.1 514.0L936.4 518.9L936.7 516.5L937.0 519.3L937.3 517.8L937.6 518.0L937.9 514.9L938.2 515.7L938.5 515.3L938.8 517.9L939.1 515.9L939.4 515.7L939.7 518.6L940.0 515.4L940.3 516.7L940.6 516.9L940.9 517.2L941.2 517.4L941.5 512.6L941.8 515.5L942.1 517.7L942.4 517.9L942.7 519.1L943.0 513.2L943.3 515.1L943.6 513.7L943.9 517.9L944.2 516.8L944.5 518.3L944.8 516.1L945.1 518.9L945.4 515.9L945.7 515.2L946.0 515.6L946.3 519.4L946.6 518.1L946.9 515.9L947.2 515.9L947.5 520.0L947.8 517.8L948.1 516.1L948.4 514.0L948.7 516.3L949.0 516.1L949.3 519.3L949.6 516.6L949.9 519.8L950.2 517.1L950.5 518.4L950.8 513.9L951.1 514.6L951.4 515.6L951.7 513.5L952.0 517.7L952.3 514.9L952.6 516.7L952.9 516.4L953.2 517.9L953.5 519.3L953.8 516.0L954.1 520.4L954.4 517.5L954.7 513.8L955.0 515.9L955.3 519.0L955.6 515.2L955.9 515.0L956.2 515.5L956.5 515.6L956.8 519.4L957.1 515.2L957.4 514.7L957.7 519.9L958.0 515.9L958.3 518.9L958.6 518.7L958.9 517.1L959.2 515.8L959.5 516.0L959.8 515.7L960.1 518.7L960.4 518.7L960.7 517.7L961.0 516.0L961.3 517.1L961.6 518.2L961.9 517.9L962.2 517.7L962.5 516.0L962.8 516.8L963.1 517.5L963.4 514.8L963.7 518.2L964.0 518.7L964.3 518.1L964.6 515.8L964.9 514.7L965.2 518.3L965.5 516.7L965.8 513.9L966.1 514.9L966.4 517.7L966.7 516.0L967.0 513.0L967.3 511.1L967.6 511.2L967.9 511.2L968.2 508.8L968.5 507.7L968.8 509.2L969.1 506.6L969.4 505.8L969.7 505.3L970.0 508.2L970.3 505.8L970.6 511.2L970.9 512.2L971.2 510.3L971.5 510.4L971.8 511.3L972.1 510.2L972.4 513.7L972.7 510.3L973.0 512.1L973.3 511.5L973.6 509.1L973.9 506.1L974.2 508.3L974.5 503.9L974.8 503.6L975.1 505.8L975.4 501.5L975.7 505.0L976.0 504.9L976.3 505.1L976.6 507.5L976.9 508.7L977.2 509.9L977.5 514.7L977.8 510.6L978.1 508.5L978.4 507.7L978.7 502.0L979.0 498.8L979.3 501.0L979.6 508.3L979.9 510.9L980.2 512.7L980.5 515.1L980.8 512.6L981.1 517.2L981.4 517.2L981.7 515.3L982.0 515.3L982.3 514.7L982.6 513.3L982.9 515.8L983.2 518.9L983.5 514.2L983.8 516.3L984.1 516.5L984.4 515.4L984.7 514.2L985.0 513.8L985.3 516.7L985.6 518.1L985.9 514.5L986.2 516.6L986.5 517.3L986.8 516.6L987.1 518.6L987.4 518.9L987.7 516.6L988.0 515.7L988.3 513.5L988.6 514.3L988.9 517.9L989.2 514.1L989.5 515.9L989.8 519.9L990.1 516.5L990.4 517.0L990.7 517.4L991.0 520.3L991.3 514.6L991.6 516.1L991.9 517.2L992.2 519.9L992.5 515.9L992.8 517.6L993.1 516.4L993.4 517.5L993.7 515.3L994.0 519.3L994.3 518.4L994.6 517.2L994.9 520.8L995.2 515.1L995.5 516.1L995.8 519.5L996.1 518.9L996.4 520.1L996.7 516.8L997.0 518.2L997.3 517.3L997.6 516.6L997.9 519.2L998.2 516.7L998.5 519.8L998.8 515.7L999.1 515.8L999.4 513.7L999.7 516.3L1000.0 513.8L1000.3 517.2L1000.6 517.2L1000.9 519.9L1001.2 518.4L1001.5 519.2L1001.8 517.1L1002.1 519.4L1002.4 517.5L1002.7 518.4L1003.0 516.8L1003.3 517.5L1003.6 517.9L1003.9 516.8L1004.2 518.5L1004.5 517.9L1004.8 513.3L1005.1 514.9L1005.4 518.4L1005.7 514.0L1006.0 514.2L1006.3 516.1L1006.6 515.5L1006.9 517.2L1007.2 516.5" fill="none" stroke="#f03a3c" stroke-width="1.8" stroke-linejoin="round"/>
<rect x="819.8" y="316" width="1.7" height="2" fill="#000"/>
<g font-size="28" fill="#000"><text x="10.90" y="634.8" text-anchor="middle">10</text><text x="177.00" y="634.8" text-anchor="middle">20</text><text x="343.10" y="634.8" text-anchor="middle">30</text><text x="509.20" y="634.8" text-anchor="middle">40</text><text x="675.30" y="634.8" text-anchor="middle">50</text><text x="841.40" y="634.8" text-anchor="middle">60</text><text x="1007.50" y="634.8" text-anchor="middle">70</text></g>
<text x="470.6" y="690" font-size="33.3" fill="#000">2θ</text><text x="512.6" y="690" font-size="33.3" fill="#000">(°)</text>
<g fill="#000"><text transform="translate(53.25 343.80) scale(0.960 1)" font-size="22.8" text-anchor="middle">K</text><text transform="translate(173.70 354.60) scale(1.020 1)" font-size="22.0" text-anchor="middle">M</text><text transform="translate(190.75 322.40) scale(0.970 1)" font-size="21.7" text-anchor="middle">Q</text><text transform="translate(261.15 347.40) scale(0.980 1)" font-size="22.0" text-anchor="middle">K</text><text transform="translate(288.90 115.90) scale(1.000 1)" font-size="21.3" text-anchor="middle">Q</text><text transform="translate(305.60 333.50) scale(0.920 1)" font-size="20.5" text-anchor="middle">A</text><text transform="translate(429.55 359.80) scale(0.920 1)" font-size="21.1" text-anchor="middle">M</text><text transform="translate(452.90 347.50) scale(1.000 1)" font-size="20.7" text-anchor="middle">Q</text><text transform="translate(502.80 358.60) scale(0.950 1)" font-size="22.3" text-anchor="middle">K</text><text transform="translate(603.55 357.80) scale(1.000 1)" font-size="21.5" text-anchor="middle">Q</text><text transform="translate(677.75 342.40) scale(0.960 1)" font-size="22.0" text-anchor="middle">Q</text><text transform="translate(758.90 360.80) scale(0.970 1)" font-size="22.2" text-anchor="middle">M</text><text transform="translate(841.85 353.50) scale(1.000 1)" font-size="20.7" text-anchor="middle">Q</text><text transform="translate(973.75 355.20) scale(1.000 1)" font-size="21.2" text-anchor="middle">Q</text></g>
<text x="597" y="305.6" font-size="33.4" fill="#000">Coal gangue</text>
<text x="444.7" y="472.7" font-size="33.25" fill="#ff0000">Coal gangue after calcination at 800 °C</text>
<g transform="translate(550,0) scale(0.945,1)" font-size="22.5" fill="#000"><text x="0" y="61.2"><tspan>Q:Quartz(SiO</tspan><tspan dy="6.5" font-size="14.5">2</tspan><tspan dy="-6.5">)</tspan></text><text x="0" y="92.0"><tspan>K:Kaolinite(2SiO</tspan><tspan dy="6.5" font-size="14.5">2</tspan><tspan dy="-6.5">·Al</tspan><tspan dy="6.5" font-size="14.5">2</tspan><tspan dy="-6.5">O</tspan><tspan dy="6.5" font-size="14.5">3</tspan><tspan dy="-6.5">·2H</tspan><tspan dy="6.5" font-size="14.5">2</tspan><tspan dy="-6.5">O)</tspan></text><text x="0" y="122.8"><tspan>M:Muscovite(K</tspan><tspan dy="6.5" font-size="14.5">2</tspan><tspan dy="-6.5">O·3Al</tspan><tspan dy="6.5" font-size="14.5">2</tspan><tspan dy="-6.5">O</tspan><tspan dy="6.5" font-size="14.5">3</tspan><tspan dy="-6.5">·6SiO</tspan><tspan dy="6.5" font-size="14.5">2</tspan><tspan dy="-6.5">·2H</tspan><tspan dy="6.5" font-size="14.5">2</tspan><tspan dy="-6.5">O)</tspan></text><text x="0" y="153.6"><tspan>A:Anorthite(CaO·Al</tspan><tspan dy="6.5" font-size="14.5">2</tspan><tspan dy="-6.5">O</tspan><tspan dy="6.5" font-size="14.5">3</tspan><tspan dy="-6.5">·2SiO</tspan><tspan dy="6.5" font-size="14.5">2</tspan><tspan dy="-6.5"></tspan></text></g>
<path d="M817.3 137.2Q829.6 145.5 817.3 153.8Q826.6 145.5 817.3 137.2Z" fill="#111" stroke="#111" stroke-width="0.6" stroke-linejoin="round"/>
</svg>
</body></html>
